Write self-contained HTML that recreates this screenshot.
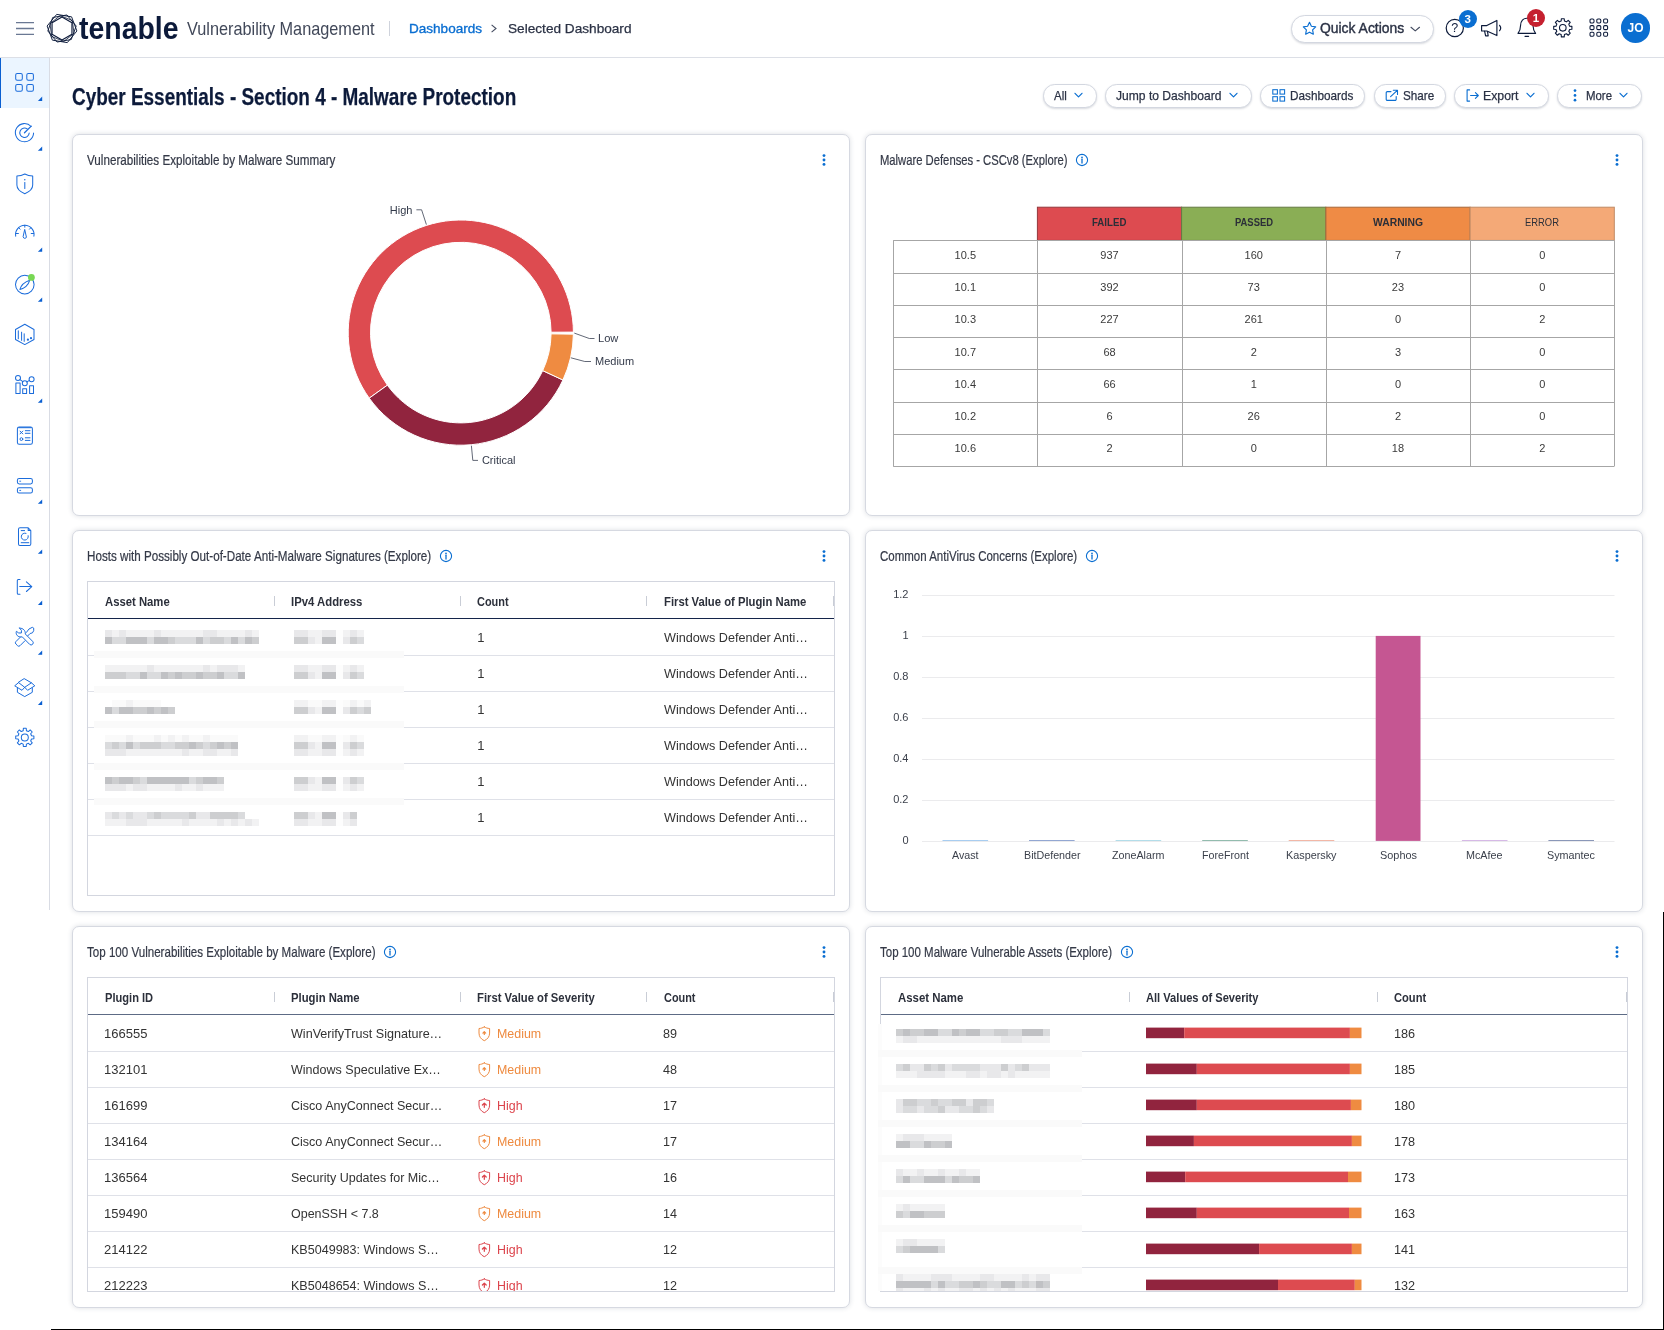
<!DOCTYPE html>
<html lang="en">
<head>
<meta charset="utf-8">
<title>Cyber Essentials - Section 4 - Malware Protection</title>
<style>
*{box-sizing:border-box;margin:0;padding:0}
html,body{width:1664px;height:1330px;overflow:hidden;background:#fff}
#app{position:absolute;left:0;top:0;width:1664px;height:1330px;overflow:hidden;will-change:transform}
body{position:relative;font-family:"Liberation Sans",sans-serif;color:#333}
.t{position:absolute;white-space:nowrap;line-height:1;transform-origin:0 0;font-family:"Liberation Sans",sans-serif}
.a{position:absolute}
svg{position:absolute;overflow:visible}
.panel{position:absolute;width:778px;height:382px;background:#fff;border:1px solid #d6d9e1;border-radius:7px;box-shadow:0 0 5px rgba(40,50,80,.16)}
.pill{position:absolute;height:24px;background:#fff;border:1px solid #d3d7e0;border-radius:12px;box-shadow:0 1px 2px rgba(40,50,80,.18)}
.tbl{position:absolute;border:1px solid #d6d9e1;background:#fff}
.hl{position:absolute;height:1px;background:#dfe2e8}
.vs{position:absolute;width:1px;height:10px;background:#c9cdd6}
.px{position:absolute}
i.m{display:inline-block;width:0;height:0}

</style>
</head>
<body>
<div id="app">
<div class="a" style="left:0;top:57px;width:1664px;height:1px;background:#dcdfe6"></div>
<svg style="left:15px;top:21px" width="20" height="16" viewBox="0 0 20 16"><path d="M1 1.7h18M1 7.5h18M1 13.3h18" stroke="#6a7893" stroke-width="1.3" fill="none"/></svg>
<svg style="left:44px;top:11px" width="36" height="36" viewBox="44 11 36 36"><g fill="none" stroke="#0c1a3a" stroke-width="0.95" stroke-linejoin="round"><path d="M76.89 30.99L67.29 42.64L52.40 40.15L47.11 26.01L56.71 14.36L71.60 16.85Z"/><path d="M76.18 26.00L71.26 39.53L57.07 42.03L47.82 31.00L52.74 17.47L66.93 14.97Z"/><path d="M74.05 33.37L63.81 41.37L51.76 36.50L49.95 23.63L60.19 15.63L72.24 20.50Z" stroke-width="0.8"/><path d="M71.96 34.25L62.00 40.00L52.04 34.25L52.04 22.75L62.00 17.00L71.96 22.75Z" stroke-width="1.15"/></g></svg>
<div class="a" style="left:389px;top:21px;width:1px;height:15px;background:#cfd3dc"></div>
<svg style="left:490px;top:23px" width="8" height="11" viewBox="0 0 8 11"><path d="M1.6 1.8l4.4 3.7-4.4 3.7" stroke="#444c60" stroke-width="1.1" fill="none"/></svg>
<div class="panel" style="left:72px;top:134px"></div>
<div class="panel" style="left:865px;top:134px"></div>
<div class="panel" style="left:72px;top:530px"></div>
<div class="panel" style="left:865px;top:530px"></div>
<div class="panel" style="left:72px;top:926px"></div>
<div class="panel" style="left:865px;top:926px"></div>
<div class="a" style="left:51px;top:1329px;width:1613px;height:1px;background:#000"></div>
<div class="a" style="left:1663px;top:912px;width:1px;height:418px;background:#000"></div>
<div class="a" style="left:49px;top:58px;width:1px;height:852px;background:#d9dce4"></div>
<svg style="left:821px;top:152.20000000000002px" width="6" height="16" viewBox="0 0 6 16"><circle cx="3" cy="3.6" r="1.45" fill="#0a6ed1"/><circle cx="3" cy="8" r="1.45" fill="#0a6ed1"/><circle cx="3" cy="12.4" r="1.45" fill="#0a6ed1"/></svg>
<svg style="left:1075px;top:153.4px" width="14" height="14" viewBox="0 0 14 14"><circle cx="7" cy="7" r="5.6" fill="none" stroke="#0a6ed1" stroke-width="1.1"/><circle cx="7" cy="4.4" r="0.85" fill="#0a6ed1"/><path d="M7 6.2v3.9" stroke="#0a6ed1" stroke-width="1.3" stroke-linecap="round"/></svg>
<svg style="left:1614px;top:152.20000000000002px" width="6" height="16" viewBox="0 0 6 16"><circle cx="3" cy="3.6" r="1.45" fill="#0a6ed1"/><circle cx="3" cy="8" r="1.45" fill="#0a6ed1"/><circle cx="3" cy="12.4" r="1.45" fill="#0a6ed1"/></svg>
<svg style="left:439px;top:549.4px" width="14" height="14" viewBox="0 0 14 14"><circle cx="7" cy="7" r="5.6" fill="none" stroke="#0a6ed1" stroke-width="1.1"/><circle cx="7" cy="4.4" r="0.85" fill="#0a6ed1"/><path d="M7 6.2v3.9" stroke="#0a6ed1" stroke-width="1.3" stroke-linecap="round"/></svg>
<svg style="left:821px;top:548.1999999999999px" width="6" height="16" viewBox="0 0 6 16"><circle cx="3" cy="3.6" r="1.45" fill="#0a6ed1"/><circle cx="3" cy="8" r="1.45" fill="#0a6ed1"/><circle cx="3" cy="12.4" r="1.45" fill="#0a6ed1"/></svg>
<svg style="left:1085.2px;top:549.4px" width="14" height="14" viewBox="0 0 14 14"><circle cx="7" cy="7" r="5.6" fill="none" stroke="#0a6ed1" stroke-width="1.1"/><circle cx="7" cy="4.4" r="0.85" fill="#0a6ed1"/><path d="M7 6.2v3.9" stroke="#0a6ed1" stroke-width="1.3" stroke-linecap="round"/></svg>
<svg style="left:1614px;top:548.1999999999999px" width="6" height="16" viewBox="0 0 6 16"><circle cx="3" cy="3.6" r="1.45" fill="#0a6ed1"/><circle cx="3" cy="8" r="1.45" fill="#0a6ed1"/><circle cx="3" cy="12.4" r="1.45" fill="#0a6ed1"/></svg>
<svg style="left:383.3px;top:945.4px" width="14" height="14" viewBox="0 0 14 14"><circle cx="7" cy="7" r="5.6" fill="none" stroke="#0a6ed1" stroke-width="1.1"/><circle cx="7" cy="4.4" r="0.85" fill="#0a6ed1"/><path d="M7 6.2v3.9" stroke="#0a6ed1" stroke-width="1.3" stroke-linecap="round"/></svg>
<svg style="left:821px;top:944.1999999999999px" width="6" height="16" viewBox="0 0 6 16"><circle cx="3" cy="3.6" r="1.45" fill="#0a6ed1"/><circle cx="3" cy="8" r="1.45" fill="#0a6ed1"/><circle cx="3" cy="12.4" r="1.45" fill="#0a6ed1"/></svg>
<svg style="left:1120.2px;top:945.4px" width="14" height="14" viewBox="0 0 14 14"><circle cx="7" cy="7" r="5.6" fill="none" stroke="#0a6ed1" stroke-width="1.1"/><circle cx="7" cy="4.4" r="0.85" fill="#0a6ed1"/><path d="M7 6.2v3.9" stroke="#0a6ed1" stroke-width="1.3" stroke-linecap="round"/></svg>
<svg style="left:1614px;top:944.1999999999999px" width="6" height="16" viewBox="0 0 6 16"><circle cx="3" cy="3.6" r="1.45" fill="#0a6ed1"/><circle cx="3" cy="8" r="1.45" fill="#0a6ed1"/><circle cx="3" cy="12.4" r="1.45" fill="#0a6ed1"/></svg>
<div class="pill" style="left:1042.5px;top:84px;width:54.0px;height:23.5px;border-radius:11.75px"></div>
<svg style="left:1074.0px;top:92.4px" width="9" height="7" viewBox="0 0 9 7"><path d="M1 1.3l3.5 3.6 3.5-3.6" stroke="#0a6ed1" stroke-width="1.2" fill="none" stroke-linecap="round" stroke-linejoin="round"/></svg>
<div class="pill" style="left:1104.5px;top:84px;width:147.0px;height:23.5px;border-radius:11.75px"></div>
<svg style="left:1228.8px;top:92.4px" width="9" height="7" viewBox="0 0 9 7"><path d="M1 1.3l3.5 3.6 3.5-3.6" stroke="#0a6ed1" stroke-width="1.2" fill="none" stroke-linecap="round" stroke-linejoin="round"/></svg>
<div class="pill" style="left:1259.5px;top:84px;width:105.0px;height:23.5px;border-radius:11.75px"></div>
<svg style="left:1271.5px;top:89px" width="14" height="13" viewBox="0 0 14 13"><g fill="none" stroke="#0a6ed1" stroke-width="1.05"><rect x="0.8" y="0.7" width="4.6" height="4.4"/><rect x="8" y="0.7" width="4.6" height="4.4"/><rect x="0.8" y="7.7" width="4.6" height="4.4"/><rect x="8" y="7.7" width="4.6" height="4.4"/></g></svg>
<div class="pill" style="left:1373.5px;top:84px;width:72.0px;height:23.5px;border-radius:11.75px"></div>
<svg style="left:1384.5px;top:88.5px" width="14" height="13" viewBox="0 0 14 13"><g fill="none" stroke="#0a6ed1" stroke-width="1.1" stroke-linecap="round" stroke-linejoin="round"><path d="M6 2.6H2.4a1.2 1.2 0 0 0-1.2 1.2v6.4a1.2 1.2 0 0 0 1.2 1.2h7.6a1.2 1.2 0 0 0 1.2-1.2V7.6"/><path d="M8.3 1.2h4.2v4.2M12.3 1.4L5.6 7.6"/></g></svg>
<div class="pill" style="left:1453.5px;top:84px;width:95.0px;height:23.5px;border-radius:11.75px"></div>
<svg style="left:1526.1px;top:92.4px" width="9" height="7" viewBox="0 0 9 7"><path d="M1 1.3l3.5 3.6 3.5-3.6" stroke="#0a6ed1" stroke-width="1.2" fill="none" stroke-linecap="round" stroke-linejoin="round"/></svg>
<svg style="left:1465.5px;top:89px" width="14" height="13" viewBox="0 0 14 13"><g fill="none" stroke="#0a6ed1" stroke-width="1.1" stroke-linecap="round" stroke-linejoin="round"><path d="M3.6 0.9H1.1v11.2h2.5"/><path d="M4.6 6.5h7.6M9.4 3.6l2.9 2.9-2.9 2.9"/></g></svg>
<div class="pill" style="left:1556.5px;top:84px;width:85.0px;height:23.5px;border-radius:11.75px"></div>
<svg style="left:1618.8px;top:92.4px" width="9" height="7" viewBox="0 0 9 7"><path d="M1 1.3l3.5 3.6 3.5-3.6" stroke="#0a6ed1" stroke-width="1.2" fill="none" stroke-linecap="round" stroke-linejoin="round"/></svg>
<svg style="left:1572px;top:88px" width="6" height="15" viewBox="0 0 6 15"><circle cx="3" cy="2.6" r="1.35" fill="#0a6ed1"/><circle cx="3" cy="7.4" r="1.35" fill="#0a6ed1"/><circle cx="3" cy="12.2" r="1.35" fill="#0a6ed1"/></svg>
<div class="pill" style="left:1291px;top:15px;width:142.5px;height:27.5px;border-radius:13.75px"></div>
<svg style="left:1302px;top:20.5px" width="15" height="15" viewBox="0 0 15 15"><path d="M7.5 1.3l1.9 3.95 4.3.6-3.1 3.05.75 4.3L7.5 11.15 3.65 13.2l.75-4.3L1.3 5.85l4.3-.6z" fill="none" stroke="#0a6ed1" stroke-width="1.15" stroke-linejoin="round"/></svg>
<svg style="left:1410.25px;top:26px" width="10.5" height="7" viewBox="0 0 10.5 7"><path d="M1 1.3l4.25 3.6 4.25-3.6" stroke="#444c60" stroke-width="1.15" fill="none" stroke-linecap="round" stroke-linejoin="round"/></svg>
<svg style="left:1444px;top:17px" width="22" height="22" viewBox="0 0 22 22"><circle cx="10.8" cy="11" r="8.6" fill="none" stroke="#0c1a3a" stroke-width="1.2"/></svg>
<div class="a" style="left:1458.5px;top:9.5px;width:18px;height:18px;border-radius:9px;background:#0a6ed1"></div>
<div class="a" style="left:1621px;top:13.2px;width:29.4px;height:29.4px;border-radius:15px;background:#0a6ed1"></div>
<svg style="left:1480px;top:19px" width="23" height="19" viewBox="0 0 23 19"><g fill="none" stroke="#0c1a3a" stroke-width="1.15" stroke-linejoin="round" stroke-linecap="round"><path d="M1.6 6.6h5.2L16.9 1.4v15.2L6.8 12H1.6z"/><path d="M4.6 12.2l1 4.6h2.6l-.7-4.3"/><path d="M19.6 6.3a4.2 4.2 0 0 1 0 5.4"/></g></svg>
<svg style="left:1516px;top:16px" width="22" height="23" viewBox="0 0 22 23"><g fill="none" stroke="#0c1a3a" stroke-width="1.15" stroke-linejoin="round" stroke-linecap="round"><path d="M2 17.4h17.6c-1.9-2.3-2.5-4.4-2.6-8.2C16.9 5.1 14.3 2.2 10.8 2.2S4.7 5.100 4.600 9.200C4.5 13 3.900 15.100 2 17.400z"/><path d="M9 20.300h3.600"/></g></svg>
<div class="a" style="left:1527.2px;top:9.1px;width:17.8px;height:17.8px;border-radius:9px;background:#c5202f"></div>
<svg style="left:1552px;top:17px" width="22" height="22" viewBox="0 0 22 22"><g fill="none" stroke="#0c1a3a" stroke-width="1.1" stroke-linejoin="round"><path d="M9.36 1.71 L12.24 1.71 L12.43 3.99 L14.46 4.83 L16.21 3.36 L18.24 5.39 L16.77 7.14 L17.61 9.17 L19.89 9.36 L19.89 12.24 L17.61 12.43 L16.77 14.46 L18.24 16.21 L16.21 18.24 L14.46 16.77 L12.43 17.61 L12.24 19.89 L9.36 19.89 L9.17 17.61 L7.14 16.77 L5.39 18.24 L3.36 16.21 L4.83 14.46 L3.99 12.43 L1.71 12.24 L1.71 9.36 L3.99 9.17 L4.83 7.14 L3.36 5.39 L5.39 3.36 L7.14 4.83 L9.17 3.99Z"/><circle cx="10.8" cy="10.8" r="3.3"/></g></svg>
<svg style="left:1588px;top:17.2px" width="22" height="22" viewBox="0 0 22 22"><g fill="none" stroke="#0c1a3a" stroke-width="1.05"><rect x="2.0" y="2.0" width="4" height="4" rx="1.2"/><rect x="2.0" y="8.6" width="4" height="4" rx="1.2"/><rect x="2.0" y="15.2" width="4" height="4" rx="1.2"/><rect x="8.8" y="2.0" width="4" height="4" rx="1.2"/><rect x="8.8" y="8.6" width="4" height="4" rx="1.2"/><rect x="8.8" y="15.2" width="4" height="4" rx="1.2"/><rect x="15.6" y="2.0" width="4" height="4" rx="1.2"/><rect x="15.6" y="8.6" width="4" height="4" rx="1.2"/><rect x="15.6" y="15.2" width="4" height="4" rx="1.2"/></g></svg>
<svg style="left:0;top:0" width="1664" height="520" viewBox="0 0 1664 520"><path d="M369.24 398.15A112.6 112.6 0 1 1 573.40 332.11L551.10 332.21A90.3 90.3 0 1 0 387.38 385.17Z" fill="#dd4b50" stroke="#fff" stroke-width="1" stroke-linejoin="round"/><path d="M562.93 380.01A112.6 112.6 0 0 1 369.24 398.15L387.38 385.17A90.3 90.3 0 0 0 542.71 370.62Z" fill="#91243e" stroke="#fff" stroke-width="1" stroke-linejoin="round"/><path d="M573.39 334.17A112.6 112.6 0 0 1 562.93 380.01L542.71 370.62A90.3 90.3 0 0 0 551.09 333.86Z" fill="#ef8b41" stroke="#fff" stroke-width="1" stroke-linejoin="round"/><g fill="none" stroke="#3b4254" stroke-width="0.8"><path d="M416.4 209.8H421.6L426.4 224.6"/><path d="M574.3 333.1L589.3 338.5H594.5"/><path d="M570.9 357.8L584.8 361.5H591"/><path d="M471.4 445.7L472.8 460.4H478"/></g></svg>
<svg style="left:0;top:0" width="1664" height="520" viewBox="0 0 1664 520" shape-rendering="auto"><rect x="1037.4" y="207.2" width="144.2" height="33.2" fill="#dd4b50" stroke="#94383c" stroke-width="1"/><rect x="1181.6" y="207.2" width="144.2" height="33.2" fill="#8aae55" stroke="#657a44" stroke-width="1"/><rect x="1325.9" y="207.2" width="144.2" height="33.2" fill="#ef8b45" stroke="#a8683a" stroke-width="1"/><rect x="1470.1" y="207.2" width="144.2" height="33.2" fill="#f4a977" stroke="#c08a64" stroke-width="1"/><path d="M893.2 240.5H1614.3" stroke="#a6a6a6" stroke-width="1"/><path d="M893.2 273.5H1614.3" stroke="#a6a6a6" stroke-width="1"/><path d="M893.2 305.5H1614.3" stroke="#a6a6a6" stroke-width="1"/><path d="M893.2 337.5H1614.3" stroke="#a6a6a6" stroke-width="1"/><path d="M893.2 369.5H1614.3" stroke="#a6a6a6" stroke-width="1"/><path d="M893.2 402.5H1614.3" stroke="#a6a6a6" stroke-width="1"/><path d="M893.2 434.5H1614.3" stroke="#a6a6a6" stroke-width="1"/><path d="M893.2 466.5H1614.3" stroke="#a6a6a6" stroke-width="1"/><path d="M893.5 240.4V466.3" stroke="#a6a6a6" stroke-width="1"/><path d="M1037.5 240.4V466.3" stroke="#a6a6a6" stroke-width="1"/><path d="M1182.5 240.4V466.3" stroke="#a6a6a6" stroke-width="1"/><path d="M1326.5 240.4V466.3" stroke="#a6a6a6" stroke-width="1"/><path d="M1470.5 240.4V466.3" stroke="#a6a6a6" stroke-width="1"/><path d="M1614.5 240.4V466.3" stroke="#a6a6a6" stroke-width="1"/></svg>
<div class="tbl" style="left:87px;top:581px;width:748px;height:315px;border-color:#d3d6df;border-top-width:1.5px"></div><div class="a" style="left:88px;top:617.5999999999999px;width:746px;height:1.5px;background:#14244a"></div><div class="hl" style="left:88px;top:655px;width:746px;background:#dfe1e8"></div><div class="hl" style="left:88px;top:691px;width:746px;background:#dfe1e8"></div><div class="hl" style="left:88px;top:727px;width:746px;background:#dfe1e8"></div><div class="hl" style="left:88px;top:763px;width:746px;background:#dfe1e8"></div><div class="hl" style="left:88px;top:799px;width:746px;background:#dfe1e8"></div><div class="hl" style="left:88px;top:835px;width:746px;background:#dfe1e8"></div><div class="vs" style="left:274px;top:596.3px"></div><div class="vs" style="left:460px;top:596.3px"></div><div class="vs" style="left:646px;top:596.3px"></div><div class="vs" style="left:833px;top:596.3px"></div>
<svg style="left:0;top:0" width="1664" height="1330" viewBox="0 0 1664 1330" shape-rendering="crispEdges"><rect x="94" y="651" width="310" height="7" fill="#fafafa"/><rect x="94" y="686" width="310" height="7" fill="#fafafa"/><rect x="94" y="721" width="310" height="7" fill="#fafafa"/><rect x="94" y="763" width="310" height="7" fill="#fafafa"/><rect x="94" y="798" width="310" height="7" fill="#fafafa"/><rect x="105" y="630" width="7" height="7" fill="#e8e8ea"/><rect x="112" y="630" width="7" height="7" fill="#f2f2f3"/><rect x="119" y="630" width="7" height="7" fill="#e8e8ea"/><rect x="126" y="630" width="7" height="7" fill="#f2f2f3"/><rect x="133" y="630" width="7" height="7" fill="#f2f2f3"/><rect x="140" y="630" width="7" height="7" fill="#f2f2f3"/><rect x="147" y="630" width="7" height="7" fill="#f2f2f3"/><rect x="154" y="630" width="7" height="7" fill="#e8e8ea"/><rect x="161" y="630" width="7" height="7" fill="#f2f2f3"/><rect x="168" y="630" width="7" height="7" fill="#f2f2f3"/><rect x="175" y="630" width="7" height="7" fill="#f2f2f3"/><rect x="182" y="630" width="7" height="7" fill="#f2f2f3"/><rect x="189" y="630" width="7" height="7" fill="#f2f2f3"/><rect x="196" y="630" width="7" height="7" fill="#f2f2f3"/><rect x="203" y="630" width="7" height="7" fill="#e8e8ea"/><rect x="210" y="630" width="7" height="7" fill="#e8e8ea"/><rect x="217" y="630" width="7" height="7" fill="#f2f2f3"/><rect x="224" y="630" width="7" height="7" fill="#f2f2f3"/><rect x="231" y="630" width="7" height="7" fill="#f2f2f3"/><rect x="238" y="630" width="7" height="7" fill="#f2f2f3"/><rect x="245" y="630" width="7" height="7" fill="#e8e8ea"/><rect x="252" y="630" width="7" height="7" fill="#f2f2f3"/><rect x="294" y="630" width="7" height="7" fill="#e8e8ea"/><rect x="301" y="630" width="7" height="7" fill="#e8e8ea"/><rect x="308" y="630" width="7" height="7" fill="#f2f2f3"/><rect x="315" y="630" width="7" height="7" fill="#f2f2f3"/><rect x="322" y="630" width="7" height="7" fill="#e8e8ea"/><rect x="329" y="630" width="7" height="7" fill="#e8e8ea"/><rect x="336" y="630" width="7" height="7" fill="#fdfdfd"/><rect x="343" y="630" width="7" height="7" fill="#f2f2f3"/><rect x="350" y="630" width="7" height="7" fill="#e8e8ea"/><rect x="357" y="630" width="7" height="7" fill="#f2f2f3"/><rect x="105" y="637" width="7" height="7" fill="#c0c1c4"/><rect x="112" y="637" width="7" height="7" fill="#dadbdd"/><rect x="119" y="637" width="7" height="7" fill="#dadbdd"/><rect x="126" y="637" width="7" height="7" fill="#c0c1c4"/><rect x="133" y="637" width="7" height="7" fill="#c0c1c4"/><rect x="140" y="637" width="7" height="7" fill="#c0c1c4"/><rect x="147" y="637" width="7" height="7" fill="#dadbdd"/><rect x="154" y="637" width="7" height="7" fill="#c0c1c4"/><rect x="161" y="637" width="7" height="7" fill="#c0c1c4"/><rect x="168" y="637" width="7" height="7" fill="#cdced0"/><rect x="175" y="637" width="7" height="7" fill="#dadbdd"/><rect x="182" y="637" width="7" height="7" fill="#dadbdd"/><rect x="189" y="637" width="7" height="7" fill="#dadbdd"/><rect x="196" y="637" width="7" height="7" fill="#c0c1c4"/><rect x="203" y="637" width="7" height="7" fill="#dadbdd"/><rect x="210" y="637" width="7" height="7" fill="#cdced0"/><rect x="217" y="637" width="7" height="7" fill="#cdced0"/><rect x="224" y="637" width="7" height="7" fill="#dadbdd"/><rect x="231" y="637" width="7" height="7" fill="#c0c1c4"/><rect x="238" y="637" width="7" height="7" fill="#dadbdd"/><rect x="245" y="637" width="7" height="7" fill="#c0c1c4"/><rect x="252" y="637" width="7" height="7" fill="#cdced0"/><rect x="294" y="637" width="7" height="7" fill="#cdced0"/><rect x="301" y="637" width="7" height="7" fill="#cdced0"/><rect x="308" y="637" width="7" height="7" fill="#e8e8ea"/><rect x="315" y="637" width="7" height="7" fill="#f2f2f3"/><rect x="322" y="637" width="7" height="7" fill="#c0c1c4"/><rect x="329" y="637" width="7" height="7" fill="#c0c1c4"/><rect x="336" y="637" width="7" height="7" fill="#fdfdfd"/><rect x="343" y="637" width="7" height="7" fill="#e8e8ea"/><rect x="350" y="637" width="7" height="7" fill="#cdced0"/><rect x="357" y="637" width="7" height="7" fill="#dadbdd"/><rect x="105" y="665" width="7" height="7" fill="#f2f2f3"/><rect x="112" y="665" width="7" height="7" fill="#f2f2f3"/><rect x="119" y="665" width="7" height="7" fill="#f2f2f3"/><rect x="126" y="665" width="7" height="7" fill="#f2f2f3"/><rect x="133" y="665" width="7" height="7" fill="#f2f2f3"/><rect x="140" y="665" width="7" height="7" fill="#f2f2f3"/><rect x="147" y="665" width="7" height="7" fill="#e8e8ea"/><rect x="154" y="665" width="7" height="7" fill="#f2f2f3"/><rect x="161" y="665" width="7" height="7" fill="#f2f2f3"/><rect x="168" y="665" width="7" height="7" fill="#f2f2f3"/><rect x="175" y="665" width="7" height="7" fill="#f2f2f3"/><rect x="182" y="665" width="7" height="7" fill="#f2f2f3"/><rect x="189" y="665" width="7" height="7" fill="#f2f2f3"/><rect x="196" y="665" width="7" height="7" fill="#f2f2f3"/><rect x="203" y="665" width="7" height="7" fill="#e8e8ea"/><rect x="210" y="665" width="7" height="7" fill="#f2f2f3"/><rect x="217" y="665" width="7" height="7" fill="#e8e8ea"/><rect x="224" y="665" width="7" height="7" fill="#e8e8ea"/><rect x="231" y="665" width="7" height="7" fill="#e8e8ea"/><rect x="238" y="665" width="7" height="7" fill="#f2f2f3"/><rect x="294" y="665" width="7" height="7" fill="#e8e8ea"/><rect x="301" y="665" width="7" height="7" fill="#e8e8ea"/><rect x="308" y="665" width="7" height="7" fill="#f2f2f3"/><rect x="315" y="665" width="7" height="7" fill="#f2f2f3"/><rect x="322" y="665" width="7" height="7" fill="#e8e8ea"/><rect x="329" y="665" width="7" height="7" fill="#e8e8ea"/><rect x="336" y="665" width="7" height="7" fill="#fdfdfd"/><rect x="343" y="665" width="7" height="7" fill="#f2f2f3"/><rect x="350" y="665" width="7" height="7" fill="#e8e8ea"/><rect x="357" y="665" width="7" height="7" fill="#f2f2f3"/><rect x="105" y="672" width="7" height="7" fill="#cdced0"/><rect x="112" y="672" width="7" height="7" fill="#cdced0"/><rect x="119" y="672" width="7" height="7" fill="#cdced0"/><rect x="126" y="672" width="7" height="7" fill="#dadbdd"/><rect x="133" y="672" width="7" height="7" fill="#dadbdd"/><rect x="140" y="672" width="7" height="7" fill="#c0c1c4"/><rect x="147" y="672" width="7" height="7" fill="#dadbdd"/><rect x="154" y="672" width="7" height="7" fill="#dadbdd"/><rect x="161" y="672" width="7" height="7" fill="#c0c1c4"/><rect x="168" y="672" width="7" height="7" fill="#cdced0"/><rect x="175" y="672" width="7" height="7" fill="#c0c1c4"/><rect x="182" y="672" width="7" height="7" fill="#cdced0"/><rect x="189" y="672" width="7" height="7" fill="#cdced0"/><rect x="196" y="672" width="7" height="7" fill="#c0c1c4"/><rect x="203" y="672" width="7" height="7" fill="#cdced0"/><rect x="210" y="672" width="7" height="7" fill="#cdced0"/><rect x="217" y="672" width="7" height="7" fill="#c0c1c4"/><rect x="224" y="672" width="7" height="7" fill="#dadbdd"/><rect x="231" y="672" width="7" height="7" fill="#dadbdd"/><rect x="238" y="672" width="7" height="7" fill="#c0c1c4"/><rect x="294" y="672" width="7" height="7" fill="#cdced0"/><rect x="301" y="672" width="7" height="7" fill="#cdced0"/><rect x="308" y="672" width="7" height="7" fill="#e8e8ea"/><rect x="315" y="672" width="7" height="7" fill="#f2f2f3"/><rect x="322" y="672" width="7" height="7" fill="#c0c1c4"/><rect x="329" y="672" width="7" height="7" fill="#c0c1c4"/><rect x="336" y="672" width="7" height="7" fill="#fdfdfd"/><rect x="343" y="672" width="7" height="7" fill="#e8e8ea"/><rect x="350" y="672" width="7" height="7" fill="#cdced0"/><rect x="357" y="672" width="7" height="7" fill="#dadbdd"/><rect x="112" y="700" width="7" height="7" fill="#fafafa"/><rect x="119" y="700" width="7" height="7" fill="#fafafa"/><rect x="126" y="700" width="7" height="7" fill="#f2f2f3"/><rect x="133" y="700" width="7" height="7" fill="#fafafa"/><rect x="140" y="700" width="7" height="7" fill="#fafafa"/><rect x="147" y="700" width="7" height="7" fill="#fafafa"/><rect x="154" y="700" width="7" height="7" fill="#fafafa"/><rect x="294" y="700" width="7" height="7" fill="#f2f2f3"/><rect x="301" y="700" width="7" height="7" fill="#f2f2f3"/><rect x="308" y="700" width="7" height="7" fill="#fafafa"/><rect x="315" y="700" width="7" height="7" fill="#fafafa"/><rect x="322" y="700" width="7" height="7" fill="#f2f2f3"/><rect x="329" y="700" width="7" height="7" fill="#f2f2f3"/><rect x="336" y="700" width="7" height="7" fill="#fdfdfd"/><rect x="343" y="700" width="7" height="7" fill="#fafafa"/><rect x="350" y="700" width="7" height="7" fill="#f2f2f3"/><rect x="357" y="700" width="7" height="7" fill="#fafafa"/><rect x="364" y="700" width="7" height="7" fill="#f2f2f3"/><rect x="105" y="707" width="7" height="7" fill="#c0c1c4"/><rect x="112" y="707" width="7" height="7" fill="#dadbdd"/><rect x="119" y="707" width="7" height="7" fill="#c0c1c4"/><rect x="126" y="707" width="7" height="7" fill="#c0c1c4"/><rect x="133" y="707" width="7" height="7" fill="#cdced0"/><rect x="140" y="707" width="7" height="7" fill="#cdced0"/><rect x="147" y="707" width="7" height="7" fill="#c0c1c4"/><rect x="154" y="707" width="7" height="7" fill="#cdced0"/><rect x="161" y="707" width="7" height="7" fill="#c0c1c4"/><rect x="168" y="707" width="7" height="7" fill="#cdced0"/><rect x="294" y="707" width="7" height="7" fill="#cdced0"/><rect x="301" y="707" width="7" height="7" fill="#cdced0"/><rect x="308" y="707" width="7" height="7" fill="#e8e8ea"/><rect x="315" y="707" width="7" height="7" fill="#f2f2f3"/><rect x="322" y="707" width="7" height="7" fill="#c0c1c4"/><rect x="329" y="707" width="7" height="7" fill="#c0c1c4"/><rect x="336" y="707" width="7" height="7" fill="#fdfdfd"/><rect x="343" y="707" width="7" height="7" fill="#e8e8ea"/><rect x="350" y="707" width="7" height="7" fill="#cdced0"/><rect x="357" y="707" width="7" height="7" fill="#dadbdd"/><rect x="364" y="707" width="7" height="7" fill="#cdced0"/><rect x="105" y="735" width="7" height="7" fill="#fafafa"/><rect x="112" y="735" width="7" height="7" fill="#fafafa"/><rect x="119" y="735" width="7" height="7" fill="#fafafa"/><rect x="126" y="735" width="7" height="7" fill="#f2f2f3"/><rect x="133" y="735" width="7" height="7" fill="#fafafa"/><rect x="140" y="735" width="7" height="7" fill="#fafafa"/><rect x="147" y="735" width="7" height="7" fill="#fafafa"/><rect x="154" y="735" width="7" height="7" fill="#f2f2f3"/><rect x="161" y="735" width="7" height="7" fill="#fafafa"/><rect x="168" y="735" width="7" height="7" fill="#f2f2f3"/><rect x="175" y="735" width="7" height="7" fill="#fafafa"/><rect x="182" y="735" width="7" height="7" fill="#f2f2f3"/><rect x="189" y="735" width="7" height="7" fill="#fafafa"/><rect x="196" y="735" width="7" height="7" fill="#fafafa"/><rect x="203" y="735" width="7" height="7" fill="#f2f2f3"/><rect x="210" y="735" width="7" height="7" fill="#fafafa"/><rect x="217" y="735" width="7" height="7" fill="#fafafa"/><rect x="224" y="735" width="7" height="7" fill="#fafafa"/><rect x="231" y="735" width="7" height="7" fill="#fafafa"/><rect x="294" y="735" width="7" height="7" fill="#f2f2f3"/><rect x="301" y="735" width="7" height="7" fill="#f2f2f3"/><rect x="308" y="735" width="7" height="7" fill="#fafafa"/><rect x="315" y="735" width="7" height="7" fill="#fafafa"/><rect x="322" y="735" width="7" height="7" fill="#f2f2f3"/><rect x="329" y="735" width="7" height="7" fill="#f2f2f3"/><rect x="336" y="735" width="7" height="7" fill="#fdfdfd"/><rect x="343" y="735" width="7" height="7" fill="#fafafa"/><rect x="350" y="735" width="7" height="7" fill="#f2f2f3"/><rect x="357" y="735" width="7" height="7" fill="#fafafa"/><rect x="105" y="742" width="7" height="7" fill="#dadbdd"/><rect x="112" y="742" width="7" height="7" fill="#cdced0"/><rect x="119" y="742" width="7" height="7" fill="#dadbdd"/><rect x="126" y="742" width="7" height="7" fill="#c0c1c4"/><rect x="133" y="742" width="7" height="7" fill="#dadbdd"/><rect x="140" y="742" width="7" height="7" fill="#cdced0"/><rect x="147" y="742" width="7" height="7" fill="#cdced0"/><rect x="154" y="742" width="7" height="7" fill="#cdced0"/><rect x="161" y="742" width="7" height="7" fill="#dadbdd"/><rect x="168" y="742" width="7" height="7" fill="#dadbdd"/><rect x="175" y="742" width="7" height="7" fill="#cdced0"/><rect x="182" y="742" width="7" height="7" fill="#cdced0"/><rect x="189" y="742" width="7" height="7" fill="#c0c1c4"/><rect x="196" y="742" width="7" height="7" fill="#cdced0"/><rect x="203" y="742" width="7" height="7" fill="#dadbdd"/><rect x="210" y="742" width="7" height="7" fill="#cdced0"/><rect x="217" y="742" width="7" height="7" fill="#c0c1c4"/><rect x="224" y="742" width="7" height="7" fill="#cdced0"/><rect x="231" y="742" width="7" height="7" fill="#c0c1c4"/><rect x="294" y="742" width="7" height="7" fill="#cdced0"/><rect x="301" y="742" width="7" height="7" fill="#cdced0"/><rect x="308" y="742" width="7" height="7" fill="#e8e8ea"/><rect x="315" y="742" width="7" height="7" fill="#f2f2f3"/><rect x="322" y="742" width="7" height="7" fill="#c0c1c4"/><rect x="329" y="742" width="7" height="7" fill="#c0c1c4"/><rect x="336" y="742" width="7" height="7" fill="#fdfdfd"/><rect x="343" y="742" width="7" height="7" fill="#e8e8ea"/><rect x="350" y="742" width="7" height="7" fill="#cdced0"/><rect x="357" y="742" width="7" height="7" fill="#dadbdd"/><rect x="105" y="749" width="7" height="7" fill="#e8e8ea"/><rect x="112" y="749" width="7" height="7" fill="#e8e8ea"/><rect x="119" y="749" width="7" height="7" fill="#e8e8ea"/><rect x="126" y="749" width="7" height="7" fill="#f2f2f3"/><rect x="133" y="749" width="7" height="7" fill="#f2f2f3"/><rect x="140" y="749" width="7" height="7" fill="#f2f2f3"/><rect x="147" y="749" width="7" height="7" fill="#f2f2f3"/><rect x="154" y="749" width="7" height="7" fill="#f2f2f3"/><rect x="161" y="749" width="7" height="7" fill="#f2f2f3"/><rect x="168" y="749" width="7" height="7" fill="#f2f2f3"/><rect x="175" y="749" width="7" height="7" fill="#f2f2f3"/><rect x="182" y="749" width="7" height="7" fill="#e8e8ea"/><rect x="189" y="749" width="7" height="7" fill="#f2f2f3"/><rect x="196" y="749" width="7" height="7" fill="#f2f2f3"/><rect x="203" y="749" width="7" height="7" fill="#e8e8ea"/><rect x="210" y="749" width="7" height="7" fill="#e8e8ea"/><rect x="217" y="749" width="7" height="7" fill="#f2f2f3"/><rect x="224" y="749" width="7" height="7" fill="#f2f2f3"/><rect x="231" y="749" width="7" height="7" fill="#e8e8ea"/><rect x="294" y="749" width="7" height="7" fill="#e8e8ea"/><rect x="301" y="749" width="7" height="7" fill="#e8e8ea"/><rect x="308" y="749" width="7" height="7" fill="#f2f2f3"/><rect x="315" y="749" width="7" height="7" fill="#f2f2f3"/><rect x="322" y="749" width="7" height="7" fill="#e8e8ea"/><rect x="329" y="749" width="7" height="7" fill="#e8e8ea"/><rect x="336" y="749" width="7" height="7" fill="#fdfdfd"/><rect x="343" y="749" width="7" height="7" fill="#f2f2f3"/><rect x="350" y="749" width="7" height="7" fill="#e8e8ea"/><rect x="357" y="749" width="7" height="7" fill="#f2f2f3"/><rect x="105" y="777" width="7" height="7" fill="#c0c1c4"/><rect x="112" y="777" width="7" height="7" fill="#cdced0"/><rect x="119" y="777" width="7" height="7" fill="#c0c1c4"/><rect x="126" y="777" width="7" height="7" fill="#c0c1c4"/><rect x="133" y="777" width="7" height="7" fill="#cdced0"/><rect x="140" y="777" width="7" height="7" fill="#dadbdd"/><rect x="147" y="777" width="7" height="7" fill="#c0c1c4"/><rect x="154" y="777" width="7" height="7" fill="#c0c1c4"/><rect x="161" y="777" width="7" height="7" fill="#c0c1c4"/><rect x="168" y="777" width="7" height="7" fill="#c0c1c4"/><rect x="175" y="777" width="7" height="7" fill="#c0c1c4"/><rect x="182" y="777" width="7" height="7" fill="#c0c1c4"/><rect x="189" y="777" width="7" height="7" fill="#dadbdd"/><rect x="196" y="777" width="7" height="7" fill="#cdced0"/><rect x="203" y="777" width="7" height="7" fill="#c0c1c4"/><rect x="210" y="777" width="7" height="7" fill="#c0c1c4"/><rect x="217" y="777" width="7" height="7" fill="#cdced0"/><rect x="294" y="777" width="7" height="7" fill="#cdced0"/><rect x="301" y="777" width="7" height="7" fill="#cdced0"/><rect x="308" y="777" width="7" height="7" fill="#e8e8ea"/><rect x="315" y="777" width="7" height="7" fill="#f2f2f3"/><rect x="322" y="777" width="7" height="7" fill="#c0c1c4"/><rect x="329" y="777" width="7" height="7" fill="#c0c1c4"/><rect x="336" y="777" width="7" height="7" fill="#fdfdfd"/><rect x="343" y="777" width="7" height="7" fill="#e8e8ea"/><rect x="350" y="777" width="7" height="7" fill="#cdced0"/><rect x="357" y="777" width="7" height="7" fill="#dadbdd"/><rect x="105" y="784" width="7" height="7" fill="#e8e8ea"/><rect x="112" y="784" width="7" height="7" fill="#e8e8ea"/><rect x="119" y="784" width="7" height="7" fill="#e8e8ea"/><rect x="126" y="784" width="7" height="7" fill="#f2f2f3"/><rect x="133" y="784" width="7" height="7" fill="#e8e8ea"/><rect x="140" y="784" width="7" height="7" fill="#e8e8ea"/><rect x="147" y="784" width="7" height="7" fill="#f2f2f3"/><rect x="154" y="784" width="7" height="7" fill="#f2f2f3"/><rect x="161" y="784" width="7" height="7" fill="#f2f2f3"/><rect x="168" y="784" width="7" height="7" fill="#f2f2f3"/><rect x="175" y="784" width="7" height="7" fill="#e8e8ea"/><rect x="182" y="784" width="7" height="7" fill="#f2f2f3"/><rect x="189" y="784" width="7" height="7" fill="#f2f2f3"/><rect x="196" y="784" width="7" height="7" fill="#e8e8ea"/><rect x="203" y="784" width="7" height="7" fill="#f2f2f3"/><rect x="210" y="784" width="7" height="7" fill="#f2f2f3"/><rect x="217" y="784" width="7" height="7" fill="#f2f2f3"/><rect x="294" y="784" width="7" height="7" fill="#e8e8ea"/><rect x="301" y="784" width="7" height="7" fill="#e8e8ea"/><rect x="308" y="784" width="7" height="7" fill="#f2f2f3"/><rect x="315" y="784" width="7" height="7" fill="#f2f2f3"/><rect x="322" y="784" width="7" height="7" fill="#e8e8ea"/><rect x="329" y="784" width="7" height="7" fill="#e8e8ea"/><rect x="336" y="784" width="7" height="7" fill="#fdfdfd"/><rect x="343" y="784" width="7" height="7" fill="#f2f2f3"/><rect x="350" y="784" width="7" height="7" fill="#e8e8ea"/><rect x="357" y="784" width="7" height="7" fill="#f2f2f3"/><rect x="105" y="812" width="7" height="7" fill="#e8e8ea"/><rect x="112" y="812" width="7" height="7" fill="#dadbdd"/><rect x="119" y="812" width="7" height="7" fill="#e8e8ea"/><rect x="126" y="812" width="7" height="7" fill="#dadbdd"/><rect x="133" y="812" width="7" height="7" fill="#e8e8ea"/><rect x="140" y="812" width="7" height="7" fill="#e8e8ea"/><rect x="147" y="812" width="7" height="7" fill="#dadbdd"/><rect x="154" y="812" width="7" height="7" fill="#cdced0"/><rect x="161" y="812" width="7" height="7" fill="#dadbdd"/><rect x="168" y="812" width="7" height="7" fill="#dadbdd"/><rect x="175" y="812" width="7" height="7" fill="#dadbdd"/><rect x="182" y="812" width="7" height="7" fill="#dadbdd"/><rect x="189" y="812" width="7" height="7" fill="#cdced0"/><rect x="196" y="812" width="7" height="7" fill="#e8e8ea"/><rect x="203" y="812" width="7" height="7" fill="#e8e8ea"/><rect x="210" y="812" width="7" height="7" fill="#cdced0"/><rect x="217" y="812" width="7" height="7" fill="#cdced0"/><rect x="224" y="812" width="7" height="7" fill="#cdced0"/><rect x="231" y="812" width="7" height="7" fill="#cdced0"/><rect x="238" y="812" width="7" height="7" fill="#dadbdd"/><rect x="294" y="812" width="7" height="7" fill="#cdced0"/><rect x="301" y="812" width="7" height="7" fill="#cdced0"/><rect x="308" y="812" width="7" height="7" fill="#e8e8ea"/><rect x="315" y="812" width="7" height="7" fill="#f2f2f3"/><rect x="322" y="812" width="7" height="7" fill="#c0c1c4"/><rect x="329" y="812" width="7" height="7" fill="#c0c1c4"/><rect x="336" y="812" width="7" height="7" fill="#fdfdfd"/><rect x="343" y="812" width="7" height="7" fill="#e8e8ea"/><rect x="350" y="812" width="7" height="7" fill="#cdced0"/><rect x="105" y="819" width="7" height="7" fill="#f2f2f3"/><rect x="112" y="819" width="7" height="7" fill="#f2f2f3"/><rect x="119" y="819" width="7" height="7" fill="#f2f2f3"/><rect x="126" y="819" width="7" height="7" fill="#e8e8ea"/><rect x="133" y="819" width="7" height="7" fill="#e8e8ea"/><rect x="140" y="819" width="7" height="7" fill="#e8e8ea"/><rect x="147" y="819" width="7" height="7" fill="#f2f2f3"/><rect x="154" y="819" width="7" height="7" fill="#f2f2f3"/><rect x="161" y="819" width="7" height="7" fill="#f2f2f3"/><rect x="168" y="819" width="7" height="7" fill="#f2f2f3"/><rect x="175" y="819" width="7" height="7" fill="#f2f2f3"/><rect x="182" y="819" width="7" height="7" fill="#e8e8ea"/><rect x="189" y="819" width="7" height="7" fill="#f2f2f3"/><rect x="196" y="819" width="7" height="7" fill="#f2f2f3"/><rect x="203" y="819" width="7" height="7" fill="#f2f2f3"/><rect x="210" y="819" width="7" height="7" fill="#f2f2f3"/><rect x="217" y="819" width="7" height="7" fill="#e8e8ea"/><rect x="224" y="819" width="7" height="7" fill="#f2f2f3"/><rect x="231" y="819" width="7" height="7" fill="#e8e8ea"/><rect x="238" y="819" width="7" height="7" fill="#f2f2f3"/><rect x="245" y="819" width="7" height="7" fill="#e8e8ea"/><rect x="252" y="819" width="7" height="7" fill="#f2f2f3"/><rect x="294" y="819" width="7" height="7" fill="#e8e8ea"/><rect x="301" y="819" width="7" height="7" fill="#e8e8ea"/><rect x="308" y="819" width="7" height="7" fill="#f2f2f3"/><rect x="315" y="819" width="7" height="7" fill="#f2f2f3"/><rect x="322" y="819" width="7" height="7" fill="#e8e8ea"/><rect x="329" y="819" width="7" height="7" fill="#e8e8ea"/><rect x="336" y="819" width="7" height="7" fill="#fdfdfd"/><rect x="343" y="819" width="7" height="7" fill="#f2f2f3"/><rect x="350" y="819" width="7" height="7" fill="#e8e8ea"/></svg>
<div class="tbl" style="left:87px;top:977px;width:748px;height:315px;border-color:#d3d6df;border-top-width:1.5px"></div><div class="a" style="left:88px;top:1013.5999999999999px;width:746px;height:1.5px;background:#5d6b85"></div><div class="hl" style="left:88px;top:1051px;width:746px;background:#dfe1e8"></div><div class="hl" style="left:88px;top:1087px;width:746px;background:#dfe1e8"></div><div class="hl" style="left:88px;top:1123px;width:746px;background:#dfe1e8"></div><div class="hl" style="left:88px;top:1159px;width:746px;background:#dfe1e8"></div><div class="hl" style="left:88px;top:1195px;width:746px;background:#dfe1e8"></div><div class="hl" style="left:88px;top:1231px;width:746px;background:#dfe1e8"></div><div class="hl" style="left:88px;top:1267px;width:746px;background:#dfe1e8"></div><div class="vs" style="left:274px;top:992.3px"></div><div class="vs" style="left:460px;top:992.3px"></div><div class="vs" style="left:646px;top:992.3px"></div><div class="vs" style="left:833px;top:992.3px"></div>
<svg style="left:477.6px;top:1026.3px" width="13" height="16" viewBox="0 0 13 16"><g fill="none" stroke="#ee8a3f" stroke-linecap="round" stroke-linejoin="round"><path d="M6.3 0.9c1.6 1 3.300 1.5 5.300 1.600v4.600c0 3.500-2.100 6.200-5.300 7.600C3.100 13.300 1 10.600 1 7.100V2.500c2-.1 3.700-.6 5.300-1.600z" stroke-width="1"/><path d="M6.3 6v2.4M4.9 7.1l1.4-1.4 1.4 1.4" stroke-width="1.2"/></g></svg>
<svg style="left:477.6px;top:1062.3px" width="13" height="16" viewBox="0 0 13 16"><g fill="none" stroke="#ee8a3f" stroke-linecap="round" stroke-linejoin="round"><path d="M6.3 0.9c1.6 1 3.300 1.5 5.300 1.600v4.600c0 3.500-2.100 6.200-5.300 7.600C3.100 13.300 1 10.600 1 7.100V2.500c2-.1 3.700-.6 5.300-1.600z" stroke-width="1"/><path d="M6.3 6v2.4M4.9 7.1l1.4-1.4 1.4 1.4" stroke-width="1.2"/></g></svg>
<svg style="left:477.6px;top:1098.3px" width="13" height="16" viewBox="0 0 13 16"><g fill="none" stroke="#dc444c" stroke-linecap="round" stroke-linejoin="round"><path d="M6.3 0.9c1.6 1 3.300 1.5 5.300 1.600v4.600c0 3.500-2.100 6.200-5.300 7.600C3.100 13.300 1 10.600 1 7.100V2.500c2-.1 3.700-.6 5.300-1.600z" stroke-width="1"/><path d="M6.3 5.3v4M4.4 7l1.9-1.9L8.2 7" stroke-width="1.25"/></g></svg>
<svg style="left:477.6px;top:1134.3px" width="13" height="16" viewBox="0 0 13 16"><g fill="none" stroke="#ee8a3f" stroke-linecap="round" stroke-linejoin="round"><path d="M6.3 0.9c1.6 1 3.300 1.5 5.300 1.600v4.600c0 3.500-2.100 6.200-5.300 7.600C3.100 13.300 1 10.600 1 7.100V2.500c2-.1 3.700-.6 5.300-1.600z" stroke-width="1"/><path d="M6.3 6v2.4M4.9 7.1l1.4-1.4 1.4 1.4" stroke-width="1.2"/></g></svg>
<svg style="left:477.6px;top:1170.3px" width="13" height="16" viewBox="0 0 13 16"><g fill="none" stroke="#dc444c" stroke-linecap="round" stroke-linejoin="round"><path d="M6.3 0.9c1.6 1 3.300 1.5 5.300 1.600v4.600c0 3.500-2.100 6.200-5.300 7.600C3.100 13.300 1 10.600 1 7.100V2.500c2-.1 3.700-.6 5.300-1.600z" stroke-width="1"/><path d="M6.3 5.3v4M4.4 7l1.9-1.9L8.2 7" stroke-width="1.25"/></g></svg>
<svg style="left:477.6px;top:1206.3px" width="13" height="16" viewBox="0 0 13 16"><g fill="none" stroke="#ee8a3f" stroke-linecap="round" stroke-linejoin="round"><path d="M6.3 0.9c1.6 1 3.300 1.5 5.300 1.600v4.600c0 3.500-2.100 6.200-5.300 7.600C3.100 13.300 1 10.600 1 7.100V2.500c2-.1 3.700-.6 5.300-1.600z" stroke-width="1"/><path d="M6.3 6v2.4M4.9 7.1l1.4-1.4 1.4 1.4" stroke-width="1.2"/></g></svg>
<svg style="left:477.6px;top:1242.3px" width="13" height="16" viewBox="0 0 13 16"><g fill="none" stroke="#dc444c" stroke-linecap="round" stroke-linejoin="round"><path d="M6.3 0.9c1.6 1 3.300 1.5 5.300 1.600v4.600c0 3.500-2.100 6.200-5.300 7.600C3.100 13.300 1 10.600 1 7.100V2.500c2-.1 3.700-.6 5.300-1.600z" stroke-width="1"/><path d="M6.3 5.3v4M4.4 7l1.9-1.9L8.2 7" stroke-width="1.25"/></g></svg>
<svg style="left:477.6px;top:1278.3px" width="13" height="16" viewBox="0 0 13 16"><g fill="none" stroke="#dc444c" stroke-linecap="round" stroke-linejoin="round"><path d="M6.3 0.9c1.6 1 3.300 1.5 5.300 1.600v4.600c0 3.500-2.100 6.200-5.300 7.600C3.100 13.300 1 10.600 1 7.100V2.500c2-.1 3.700-.6 5.300-1.600z" stroke-width="1"/><path d="M6.3 5.3v4M4.4 7l1.9-1.9L8.2 7" stroke-width="1.25"/></g></svg>
<div class="tbl" style="left:880px;top:977px;width:748px;height:315px;border-color:#d3d6df;border-top-width:1.5px"></div><div class="a" style="left:881px;top:1013.5999999999999px;width:746px;height:1.5px;background:#5d6b85"></div><div class="hl" style="left:881px;top:1051px;width:746px;background:#dfe1e8"></div><div class="hl" style="left:881px;top:1087px;width:746px;background:#dfe1e8"></div><div class="hl" style="left:881px;top:1123px;width:746px;background:#dfe1e8"></div><div class="hl" style="left:881px;top:1159px;width:746px;background:#dfe1e8"></div><div class="hl" style="left:881px;top:1195px;width:746px;background:#dfe1e8"></div><div class="hl" style="left:881px;top:1231px;width:746px;background:#dfe1e8"></div><div class="hl" style="left:881px;top:1267px;width:746px;background:#dfe1e8"></div><div class="vs" style="left:1129px;top:992.3px"></div><div class="vs" style="left:1377px;top:992.3px"></div><div class="vs" style="left:1626px;top:992.3px"></div>
<svg style="left:0;top:0" width="1664" height="1330" viewBox="0 0 1664 1330"><rect x="1146" y="1027.6" width="38.2" height="10.6" fill="#91243e"/><rect x="1184.2" y="1027.6" width="165.7" height="10.6" fill="#dd4b50"/><rect x="1349.9" y="1027.6" width="11.6" height="10.6" fill="#ef8b41"/><rect x="1146" y="1063.6" width="50.8" height="10.6" fill="#91243e"/><rect x="1196.8" y="1063.6" width="153.1" height="10.6" fill="#dd4b50"/><rect x="1349.9" y="1063.6" width="11.6" height="10.6" fill="#ef8b41"/><rect x="1146" y="1099.6" width="50.8" height="10.6" fill="#91243e"/><rect x="1196.8" y="1099.6" width="154.1" height="10.6" fill="#dd4b50"/><rect x="1350.9" y="1099.6" width="10.6" height="10.6" fill="#ef8b41"/><rect x="1146" y="1135.6" width="47.9" height="10.6" fill="#91243e"/><rect x="1193.9" y="1135.6" width="158.0" height="10.6" fill="#dd4b50"/><rect x="1351.9" y="1135.6" width="9.6" height="10.6" fill="#ef8b41"/><rect x="1146" y="1171.6" width="39.2" height="10.6" fill="#91243e"/><rect x="1185.2" y="1171.6" width="162.8" height="10.6" fill="#dd4b50"/><rect x="1348.0" y="1171.6" width="13.5" height="10.6" fill="#ef8b41"/><rect x="1146" y="1207.6" width="50.8" height="10.6" fill="#91243e"/><rect x="1196.8" y="1207.6" width="152.2" height="10.6" fill="#dd4b50"/><rect x="1349.0" y="1207.6" width="12.5" height="10.6" fill="#ef8b41"/><rect x="1146" y="1243.6" width="113.1" height="10.6" fill="#91243e"/><rect x="1259.1" y="1243.6" width="92.8" height="10.6" fill="#dd4b50"/><rect x="1351.9" y="1243.6" width="9.6" height="10.6" fill="#ef8b41"/><rect x="1146" y="1279.6" width="132.0" height="10.6" fill="#91243e"/><rect x="1278.0" y="1279.6" width="76.8" height="10.6" fill="#dd4b50"/><rect x="1354.8" y="1279.6" width="6.7" height="10.6" fill="#ef8b41"/></svg>
<svg style="left:0;top:0" width="1664" height="1330" viewBox="0 0 1664 1330" shape-rendering="crispEdges"><rect x="878" y="1024" width="4" height="267" fill="#fcfcfc"/><rect x="878" y="1050" width="204" height="7" fill="#fafafa"/><rect x="878" y="1085" width="204" height="7" fill="#fafafa"/><rect x="878" y="1120" width="204" height="7" fill="#fafafa"/><rect x="878" y="1155" width="204" height="7" fill="#fafafa"/><rect x="878" y="1190" width="204" height="7" fill="#fafafa"/><rect x="878" y="1225" width="204" height="7" fill="#fafafa"/><rect x="878" y="1267" width="204" height="7" fill="#fafafa"/><rect x="896" y="1029" width="7" height="7" fill="#cdced0"/><rect x="903" y="1029" width="7" height="7" fill="#c0c1c4"/><rect x="910" y="1029" width="7" height="7" fill="#cdced0"/><rect x="917" y="1029" width="7" height="7" fill="#cdced0"/><rect x="924" y="1029" width="7" height="7" fill="#c0c1c4"/><rect x="931" y="1029" width="7" height="7" fill="#c0c1c4"/><rect x="938" y="1029" width="7" height="7" fill="#dadbdd"/><rect x="945" y="1029" width="7" height="7" fill="#dadbdd"/><rect x="952" y="1029" width="7" height="7" fill="#c0c1c4"/><rect x="959" y="1029" width="7" height="7" fill="#cdced0"/><rect x="966" y="1029" width="7" height="7" fill="#c0c1c4"/><rect x="973" y="1029" width="7" height="7" fill="#c0c1c4"/><rect x="980" y="1029" width="7" height="7" fill="#dadbdd"/><rect x="987" y="1029" width="7" height="7" fill="#dadbdd"/><rect x="994" y="1029" width="7" height="7" fill="#cdced0"/><rect x="1001" y="1029" width="7" height="7" fill="#cdced0"/><rect x="1008" y="1029" width="7" height="7" fill="#dadbdd"/><rect x="1015" y="1029" width="7" height="7" fill="#dadbdd"/><rect x="1022" y="1029" width="7" height="7" fill="#c0c1c4"/><rect x="1029" y="1029" width="7" height="7" fill="#c0c1c4"/><rect x="1036" y="1029" width="7" height="7" fill="#c0c1c4"/><rect x="1043" y="1029" width="7" height="7" fill="#dadbdd"/><rect x="896" y="1036" width="7" height="7" fill="#f2f2f3"/><rect x="903" y="1036" width="7" height="7" fill="#e8e8ea"/><rect x="910" y="1036" width="7" height="7" fill="#e8e8ea"/><rect x="917" y="1036" width="7" height="7" fill="#f2f2f3"/><rect x="924" y="1036" width="7" height="7" fill="#f2f2f3"/><rect x="931" y="1036" width="7" height="7" fill="#f2f2f3"/><rect x="938" y="1036" width="7" height="7" fill="#f2f2f3"/><rect x="945" y="1036" width="7" height="7" fill="#f2f2f3"/><rect x="952" y="1036" width="7" height="7" fill="#f2f2f3"/><rect x="959" y="1036" width="7" height="7" fill="#f2f2f3"/><rect x="966" y="1036" width="7" height="7" fill="#f2f2f3"/><rect x="973" y="1036" width="7" height="7" fill="#f2f2f3"/><rect x="980" y="1036" width="7" height="7" fill="#f2f2f3"/><rect x="987" y="1036" width="7" height="7" fill="#f2f2f3"/><rect x="994" y="1036" width="7" height="7" fill="#f2f2f3"/><rect x="1001" y="1036" width="7" height="7" fill="#e8e8ea"/><rect x="1008" y="1036" width="7" height="7" fill="#e8e8ea"/><rect x="1015" y="1036" width="7" height="7" fill="#e8e8ea"/><rect x="1022" y="1036" width="7" height="7" fill="#f2f2f3"/><rect x="1029" y="1036" width="7" height="7" fill="#f2f2f3"/><rect x="1036" y="1036" width="7" height="7" fill="#f2f2f3"/><rect x="1043" y="1036" width="7" height="7" fill="#f2f2f3"/><rect x="896" y="1064" width="7" height="7" fill="#dadbdd"/><rect x="903" y="1064" width="7" height="7" fill="#cdced0"/><rect x="910" y="1064" width="7" height="7" fill="#e8e8ea"/><rect x="917" y="1064" width="7" height="7" fill="#e8e8ea"/><rect x="924" y="1064" width="7" height="7" fill="#cdced0"/><rect x="931" y="1064" width="7" height="7" fill="#dadbdd"/><rect x="938" y="1064" width="7" height="7" fill="#cdced0"/><rect x="945" y="1064" width="7" height="7" fill="#e8e8ea"/><rect x="952" y="1064" width="7" height="7" fill="#dadbdd"/><rect x="959" y="1064" width="7" height="7" fill="#dadbdd"/><rect x="966" y="1064" width="7" height="7" fill="#dadbdd"/><rect x="973" y="1064" width="7" height="7" fill="#dadbdd"/><rect x="980" y="1064" width="7" height="7" fill="#e8e8ea"/><rect x="987" y="1064" width="7" height="7" fill="#e8e8ea"/><rect x="994" y="1064" width="7" height="7" fill="#e8e8ea"/><rect x="1001" y="1064" width="7" height="7" fill="#cdced0"/><rect x="1008" y="1064" width="7" height="7" fill="#e8e8ea"/><rect x="1015" y="1064" width="7" height="7" fill="#dadbdd"/><rect x="1022" y="1064" width="7" height="7" fill="#cdced0"/><rect x="1029" y="1064" width="7" height="7" fill="#e8e8ea"/><rect x="1036" y="1064" width="7" height="7" fill="#e8e8ea"/><rect x="1043" y="1064" width="7" height="7" fill="#e8e8ea"/><rect x="896" y="1071" width="7" height="7" fill="#f2f2f3"/><rect x="903" y="1071" width="7" height="7" fill="#f2f2f3"/><rect x="910" y="1071" width="7" height="7" fill="#f2f2f3"/><rect x="917" y="1071" width="7" height="7" fill="#e8e8ea"/><rect x="924" y="1071" width="7" height="7" fill="#e8e8ea"/><rect x="931" y="1071" width="7" height="7" fill="#e8e8ea"/><rect x="938" y="1071" width="7" height="7" fill="#e8e8ea"/><rect x="945" y="1071" width="7" height="7" fill="#f2f2f3"/><rect x="952" y="1071" width="7" height="7" fill="#f2f2f3"/><rect x="959" y="1071" width="7" height="7" fill="#f2f2f3"/><rect x="966" y="1071" width="7" height="7" fill="#e8e8ea"/><rect x="973" y="1071" width="7" height="7" fill="#e8e8ea"/><rect x="980" y="1071" width="7" height="7" fill="#f2f2f3"/><rect x="987" y="1071" width="7" height="7" fill="#e8e8ea"/><rect x="994" y="1071" width="7" height="7" fill="#e8e8ea"/><rect x="1001" y="1071" width="7" height="7" fill="#f2f2f3"/><rect x="1008" y="1071" width="7" height="7" fill="#e8e8ea"/><rect x="1015" y="1071" width="7" height="7" fill="#f2f2f3"/><rect x="1022" y="1071" width="7" height="7" fill="#f2f2f3"/><rect x="1029" y="1071" width="7" height="7" fill="#f2f2f3"/><rect x="1036" y="1071" width="7" height="7" fill="#f2f2f3"/><rect x="1043" y="1071" width="7" height="7" fill="#f2f2f3"/><rect x="896" y="1099" width="7" height="7" fill="#e8e8ea"/><rect x="903" y="1099" width="7" height="7" fill="#cdced0"/><rect x="910" y="1099" width="7" height="7" fill="#cdced0"/><rect x="917" y="1099" width="7" height="7" fill="#dadbdd"/><rect x="924" y="1099" width="7" height="7" fill="#dadbdd"/><rect x="931" y="1099" width="7" height="7" fill="#cdced0"/><rect x="938" y="1099" width="7" height="7" fill="#dadbdd"/><rect x="945" y="1099" width="7" height="7" fill="#dadbdd"/><rect x="952" y="1099" width="7" height="7" fill="#cdced0"/><rect x="959" y="1099" width="7" height="7" fill="#cdced0"/><rect x="966" y="1099" width="7" height="7" fill="#e8e8ea"/><rect x="973" y="1099" width="7" height="7" fill="#cdced0"/><rect x="980" y="1099" width="7" height="7" fill="#cdced0"/><rect x="987" y="1099" width="7" height="7" fill="#dadbdd"/><rect x="896" y="1106" width="7" height="7" fill="#e8e8ea"/><rect x="903" y="1106" width="7" height="7" fill="#dadbdd"/><rect x="910" y="1106" width="7" height="7" fill="#dadbdd"/><rect x="917" y="1106" width="7" height="7" fill="#e8e8ea"/><rect x="924" y="1106" width="7" height="7" fill="#dadbdd"/><rect x="931" y="1106" width="7" height="7" fill="#dadbdd"/><rect x="938" y="1106" width="7" height="7" fill="#cdced0"/><rect x="945" y="1106" width="7" height="7" fill="#e8e8ea"/><rect x="952" y="1106" width="7" height="7" fill="#e8e8ea"/><rect x="959" y="1106" width="7" height="7" fill="#dadbdd"/><rect x="966" y="1106" width="7" height="7" fill="#dadbdd"/><rect x="973" y="1106" width="7" height="7" fill="#cdced0"/><rect x="980" y="1106" width="7" height="7" fill="#dadbdd"/><rect x="987" y="1106" width="7" height="7" fill="#e8e8ea"/><rect x="896" y="1134" width="7" height="7" fill="#f2f2f3"/><rect x="903" y="1134" width="7" height="7" fill="#e8e8ea"/><rect x="910" y="1134" width="7" height="7" fill="#e8e8ea"/><rect x="917" y="1134" width="7" height="7" fill="#e8e8ea"/><rect x="924" y="1134" width="7" height="7" fill="#f2f2f3"/><rect x="931" y="1134" width="7" height="7" fill="#f2f2f3"/><rect x="938" y="1134" width="7" height="7" fill="#f2f2f3"/><rect x="945" y="1134" width="7" height="7" fill="#f2f2f3"/><rect x="896" y="1141" width="7" height="7" fill="#c0c1c4"/><rect x="903" y="1141" width="7" height="7" fill="#c0c1c4"/><rect x="910" y="1141" width="7" height="7" fill="#dadbdd"/><rect x="917" y="1141" width="7" height="7" fill="#dadbdd"/><rect x="924" y="1141" width="7" height="7" fill="#c0c1c4"/><rect x="931" y="1141" width="7" height="7" fill="#cdced0"/><rect x="938" y="1141" width="7" height="7" fill="#cdced0"/><rect x="945" y="1141" width="7" height="7" fill="#c0c1c4"/><rect x="896" y="1169" width="7" height="7" fill="#e8e8ea"/><rect x="903" y="1169" width="7" height="7" fill="#f2f2f3"/><rect x="910" y="1169" width="7" height="7" fill="#f2f2f3"/><rect x="917" y="1169" width="7" height="7" fill="#e8e8ea"/><rect x="924" y="1169" width="7" height="7" fill="#f2f2f3"/><rect x="931" y="1169" width="7" height="7" fill="#f2f2f3"/><rect x="938" y="1169" width="7" height="7" fill="#e8e8ea"/><rect x="945" y="1169" width="7" height="7" fill="#f2f2f3"/><rect x="952" y="1169" width="7" height="7" fill="#f2f2f3"/><rect x="959" y="1169" width="7" height="7" fill="#e8e8ea"/><rect x="966" y="1169" width="7" height="7" fill="#f2f2f3"/><rect x="973" y="1169" width="7" height="7" fill="#f2f2f3"/><rect x="896" y="1176" width="7" height="7" fill="#dadbdd"/><rect x="903" y="1176" width="7" height="7" fill="#c0c1c4"/><rect x="910" y="1176" width="7" height="7" fill="#dadbdd"/><rect x="917" y="1176" width="7" height="7" fill="#dadbdd"/><rect x="924" y="1176" width="7" height="7" fill="#c0c1c4"/><rect x="931" y="1176" width="7" height="7" fill="#c0c1c4"/><rect x="938" y="1176" width="7" height="7" fill="#c0c1c4"/><rect x="945" y="1176" width="7" height="7" fill="#dadbdd"/><rect x="952" y="1176" width="7" height="7" fill="#c0c1c4"/><rect x="959" y="1176" width="7" height="7" fill="#cdced0"/><rect x="966" y="1176" width="7" height="7" fill="#cdced0"/><rect x="973" y="1176" width="7" height="7" fill="#c0c1c4"/><rect x="896" y="1204" width="7" height="7" fill="#f2f2f3"/><rect x="903" y="1204" width="7" height="7" fill="#e8e8ea"/><rect x="910" y="1204" width="7" height="7" fill="#f2f2f3"/><rect x="917" y="1204" width="7" height="7" fill="#f2f2f3"/><rect x="924" y="1204" width="7" height="7" fill="#f2f2f3"/><rect x="931" y="1204" width="7" height="7" fill="#f2f2f3"/><rect x="938" y="1204" width="7" height="7" fill="#f2f2f3"/><rect x="896" y="1211" width="7" height="7" fill="#cdced0"/><rect x="903" y="1211" width="7" height="7" fill="#dadbdd"/><rect x="910" y="1211" width="7" height="7" fill="#c0c1c4"/><rect x="917" y="1211" width="7" height="7" fill="#c0c1c4"/><rect x="924" y="1211" width="7" height="7" fill="#cdced0"/><rect x="931" y="1211" width="7" height="7" fill="#cdced0"/><rect x="938" y="1211" width="7" height="7" fill="#cdced0"/><rect x="896" y="1239" width="7" height="7" fill="#f2f2f3"/><rect x="903" y="1239" width="7" height="7" fill="#e8e8ea"/><rect x="910" y="1239" width="7" height="7" fill="#e8e8ea"/><rect x="917" y="1239" width="7" height="7" fill="#f2f2f3"/><rect x="924" y="1239" width="7" height="7" fill="#f2f2f3"/><rect x="931" y="1239" width="7" height="7" fill="#f2f2f3"/><rect x="938" y="1239" width="7" height="7" fill="#f2f2f3"/><rect x="896" y="1246" width="7" height="7" fill="#dadbdd"/><rect x="903" y="1246" width="7" height="7" fill="#cdced0"/><rect x="910" y="1246" width="7" height="7" fill="#c0c1c4"/><rect x="917" y="1246" width="7" height="7" fill="#c0c1c4"/><rect x="924" y="1246" width="7" height="7" fill="#c0c1c4"/><rect x="931" y="1246" width="7" height="7" fill="#c0c1c4"/><rect x="938" y="1246" width="7" height="7" fill="#dadbdd"/><rect x="896" y="1274" width="7" height="7" fill="#e8e8ea"/><rect x="903" y="1274" width="7" height="7" fill="#f2f2f3"/><rect x="910" y="1274" width="7" height="7" fill="#f2f2f3"/><rect x="917" y="1274" width="7" height="7" fill="#f2f2f3"/><rect x="924" y="1274" width="7" height="7" fill="#f2f2f3"/><rect x="931" y="1274" width="7" height="7" fill="#e8e8ea"/><rect x="938" y="1274" width="7" height="7" fill="#e8e8ea"/><rect x="945" y="1274" width="7" height="7" fill="#e8e8ea"/><rect x="952" y="1274" width="7" height="7" fill="#f2f2f3"/><rect x="959" y="1274" width="7" height="7" fill="#f2f2f3"/><rect x="966" y="1274" width="7" height="7" fill="#f2f2f3"/><rect x="973" y="1274" width="7" height="7" fill="#f2f2f3"/><rect x="980" y="1274" width="7" height="7" fill="#e8e8ea"/><rect x="987" y="1274" width="7" height="7" fill="#e8e8ea"/><rect x="994" y="1274" width="7" height="7" fill="#f2f2f3"/><rect x="1001" y="1274" width="7" height="7" fill="#f2f2f3"/><rect x="1008" y="1274" width="7" height="7" fill="#f2f2f3"/><rect x="1015" y="1274" width="7" height="7" fill="#f2f2f3"/><rect x="1022" y="1274" width="7" height="7" fill="#e8e8ea"/><rect x="1029" y="1274" width="7" height="7" fill="#f2f2f3"/><rect x="1036" y="1274" width="7" height="7" fill="#e8e8ea"/><rect x="1043" y="1274" width="7" height="7" fill="#e8e8ea"/><rect x="896" y="1281" width="7" height="7" fill="#c0c1c4"/><rect x="903" y="1281" width="7" height="7" fill="#c0c1c4"/><rect x="910" y="1281" width="7" height="7" fill="#c0c1c4"/><rect x="917" y="1281" width="7" height="7" fill="#c0c1c4"/><rect x="924" y="1281" width="7" height="7" fill="#c0c1c4"/><rect x="931" y="1281" width="7" height="7" fill="#dadbdd"/><rect x="938" y="1281" width="7" height="7" fill="#c0c1c4"/><rect x="945" y="1281" width="7" height="7" fill="#dadbdd"/><rect x="952" y="1281" width="7" height="7" fill="#dadbdd"/><rect x="959" y="1281" width="7" height="7" fill="#cdced0"/><rect x="966" y="1281" width="7" height="7" fill="#cdced0"/><rect x="973" y="1281" width="7" height="7" fill="#c0c1c4"/><rect x="980" y="1281" width="7" height="7" fill="#cdced0"/><rect x="987" y="1281" width="7" height="7" fill="#dadbdd"/><rect x="994" y="1281" width="7" height="7" fill="#dadbdd"/><rect x="1001" y="1281" width="7" height="7" fill="#c0c1c4"/><rect x="1008" y="1281" width="7" height="7" fill="#c0c1c4"/><rect x="1015" y="1281" width="7" height="7" fill="#dadbdd"/><rect x="1022" y="1281" width="7" height="7" fill="#cdced0"/><rect x="1029" y="1281" width="7" height="7" fill="#dadbdd"/><rect x="1036" y="1281" width="7" height="7" fill="#c0c1c4"/><rect x="1043" y="1281" width="7" height="7" fill="#cdced0"/><rect x="896" y="1288" width="7" height="7" fill="#e8e8ea"/><rect x="903" y="1288" width="7" height="7" fill="#f2f2f3"/><rect x="910" y="1288" width="7" height="7" fill="#f2f2f3"/><rect x="917" y="1288" width="7" height="7" fill="#f2f2f3"/><rect x="924" y="1288" width="7" height="7" fill="#e8e8ea"/><rect x="931" y="1288" width="7" height="7" fill="#f2f2f3"/><rect x="938" y="1288" width="7" height="7" fill="#e8e8ea"/><rect x="945" y="1288" width="7" height="7" fill="#f2f2f3"/><rect x="952" y="1288" width="7" height="7" fill="#f2f2f3"/><rect x="959" y="1288" width="7" height="7" fill="#e8e8ea"/><rect x="966" y="1288" width="7" height="7" fill="#e8e8ea"/><rect x="973" y="1288" width="7" height="7" fill="#f2f2f3"/><rect x="980" y="1288" width="7" height="7" fill="#e8e8ea"/><rect x="987" y="1288" width="7" height="7" fill="#f2f2f3"/><rect x="994" y="1288" width="7" height="7" fill="#e8e8ea"/><rect x="1001" y="1288" width="7" height="7" fill="#f2f2f3"/><rect x="1008" y="1288" width="7" height="7" fill="#e8e8ea"/><rect x="1015" y="1288" width="7" height="7" fill="#f2f2f3"/><rect x="1022" y="1288" width="7" height="7" fill="#f2f2f3"/><rect x="1029" y="1288" width="7" height="7" fill="#f2f2f3"/><rect x="1036" y="1288" width="7" height="7" fill="#e8e8ea"/><rect x="1043" y="1288" width="7" height="7" fill="#e8e8ea"/></svg>
<div class="a" style="left:87px;top:1291px;width:748px;height:14px;background:#fff;z-index:3;border-top:1px solid #d3d6df"></div>
<div class="a" style="left:880px;top:1291px;width:748px;height:14px;background:#fff;z-index:3;border-top:1px solid #d3d6df"></div>
<svg style="left:0;top:0" width="1664" height="920" viewBox="0 0 1664 920"><path d="M922 595.5H1614.5" stroke="#ebebed" stroke-width="1"/><path d="M922 636.5H1614.5" stroke="#ebebed" stroke-width="1"/><path d="M922 677.5H1614.5" stroke="#ebebed" stroke-width="1"/><path d="M922 718.5H1614.5" stroke="#ebebed" stroke-width="1"/><path d="M922 759.5H1614.5" stroke="#ebebed" stroke-width="1"/><path d="M922 800.5H1614.5" stroke="#ebebed" stroke-width="1"/><path d="M922 841.5H1614.5" stroke="#ebebed" stroke-width="1"/><rect x="942.5" y="840" width="45.6" height="1" fill="#a8cdf0"/><rect x="1029.0" y="840" width="45.6" height="1" fill="#93a7d2"/><rect x="1115.6" y="840" width="45.6" height="1" fill="#b3dde9"/><rect x="1202.2" y="840" width="45.6" height="1" fill="#93bcae"/><rect x="1288.7" y="840" width="45.6" height="1" fill="#f2b7a6"/><rect x="1375.7" y="635.9" width="44.8" height="205.0" fill="#c55692"/><rect x="1461.9" y="840" width="45.6" height="1" fill="#d6b9e6"/><rect x="1548.4" y="840" width="45.6" height="1" fill="#8a97b8"/></svg>
<div class="a" style="left:0;top:58px;width:49px;height:50px;background:#ebf5ff"></div>
<div class="a" style="left:0;top:58px;width:1.4px;height:50px;background:#0a5fd1"></div>
<svg style="left:0;top:0" width="52" height="800" viewBox="0 0 52 800"><g fill="none" stroke="#1b6cdb" stroke-width="1.02" stroke-linecap="round" stroke-linejoin="round"><rect x="15.7" y="73.60000000000001" width="6.6" height="6.6" rx="1.5"/><rect x="15.7" y="84.60000000000001" width="6.6" height="6.6" rx="1.5"/><rect x="26.8" y="73.60000000000001" width="6.6" height="6.6" rx="1.5"/><rect x="26.8" y="84.60000000000001" width="6.6" height="6.6" rx="1.5"/><path d="M31.16 126.49A9.1 9.1 0 1 0 33.59 133.02"/><path d="M27.20 128.85A4.7 4.7 0 1 0 29.18 133.11"/><path d="M24.5 132.7L31.2 126.1" stroke-width="1.3"/><path d="M24.8 174c2.4 1.300 4.900 2 7.900 2.100v9c0 3.800-3.600 6.900-7.900 8.700-4.300-1.800-7.900-4.900-7.900-8.700v-9c3-.1 5.500-.8 7.900-2.100z"/><path d="M24.8 182.600v6"/><path d="M24.8 179.600v.2" stroke-width="1.4"/><path d="M15.700 236.200A9.250 9.250 0 1 1 33.900 236.200"/><path d="M24.800 225.200v2M15.900 233.500h2.500M33.700 233.500h-2.500M18.700 227.700l1.400 1.500M30.900 227.700l-1.400 1.500" stroke-width="1"/><path d="M24.800 229.800l1.600 7.300a1.650 1.650 0 0 1-3.200 0z" stroke-width="1"/><circle cx="24.800" cy="284.600" r="9.300"/><path d="M19.900 289.400c1-3.500 5-7.400 9.800-9.100-1.200 4-5.200 7.900-9.800 9.100z"/><path d="M24.800 324.300l9.200 5.200v10l-9.200 5.100-9.300-5.100v-10z"/><path d="M18.300 330.800v8M21.600 332.200v8.200M24.200 333.800v7.600" stroke-width="1"/><rect x="15.900" y="382.900" width="4.200" height="10.600"/><rect x="22.700" y="388.700" width="3.900" height="4.800"/><rect x="29.600" y="385.800" width="3.900" height="7.700"/><circle cx="18" cy="378" r="2.500"/><circle cx="24.800" cy="383.200" r="2.500"/><circle cx="31.600" cy="379.200" r="2.500"/><path d="M20 379.600l2.800 2.100M26.900 381.900l2.600-1.500"/><rect x="17.400" y="426.900" width="15" height="17.400" rx="1.800"/><path d="M18.600 427.700h12.600" stroke-width="1"/><path d="M20 431.100l2.800 2.800M22.800 431.100l-2.800 2.800M25.300 430.700h4.700M25.300 433.300h4.700M25.300 437.800h4.700M25.300 440.400h4.700" stroke-width="1"/><circle cx="21.400" cy="439.100" r="1.400" stroke-width="1"/><rect x="17.400" y="478.500" width="15" height="5.400" rx="1.800"/><rect x="17.400" y="487.700" width="15" height="5.400" rx="1.800"/><path d="M19.700 481.200h1M19.700 490.400h1" stroke-width="0.9"/><path d="M28.200 527.800h-8.200a1.500 1.500 0 0 0-1.500 1.500v14.600a1.500 1.500 0 0 0 1.500 1.500h9.300a1.500 1.500 0 0 0 1.500-1.500V530.500zM28.200 527.800v2.700h2.600"/><path d="M21.200 530.600h3.400M21.200 542.700h7.600" stroke-width="1"/><path d="M28.18 535.69A3.5 3.5 0 1 1 26.00 533.31" stroke-width="1"/><path d="M20 579.400h-1.700a1 1 0 0 0-1 1v12.800a1 1 0 0 0 1 1H20"/><path d="M19.700 586.600h12M26.400 581.800l5.400 4.800-5.400 4.900"/><path d="M19.600 628.100l1.800 2.300v2.600h-2.700l-2.300-1.700c-.9 2.600.7 5.200 3.500 5.600h2.400l7.300 7.400a2.100 2.100 0 0 0 3-3l-7.300-7.300c.3-3.400-2.200-6-5.700-5.900z" stroke-width="1"/><path d="M26.400 632.400l2.600-3.400 3.300-1.700 1.400.8v2.600l-1.300 2.200-2.300.6-2.400 2.400" stroke-width="1"/><path d="M20.100 637.400l-4.200 4.200a1.700 1.700 0 0 0 0 2.400l1.700 1.700a1.700 1.700 0 0 0 2.400 0l5-5" stroke-width="1"/><path d="M24.500 678.800L31.400 682.800 24.700 687.300 18.600 682.600zM18.600 682.600L14.700 685.800 22 690.300 24.700 687.300M31.400 682.800L34.800 685.800 27.600 690.300 24.700 687.300M17.400 688V692.300L24.700 696.600 32.300 692.300V688" stroke-width="1"/><path d="M23.36 728.31 L26.24 728.31 L26.41 730.69 L28.41 731.52 L30.21 729.96 L32.24 731.99 L30.68 733.79 L31.51 735.79 L33.89 735.96 L33.89 738.84 L31.51 739.01 L30.68 741.01 L32.24 742.81 L30.21 744.84 L28.41 743.28 L26.41 744.11 L26.24 746.49 L23.36 746.49 L23.19 744.11 L21.19 743.28 L19.39 744.84 L17.36 742.81 L18.92 741.01 L18.09 739.01 L15.71 738.84 L15.71 735.96 L18.09 735.79 L18.92 733.79 L17.36 731.99 L19.39 729.96 L21.19 731.52 L23.19 730.69Z"/><circle cx="24.800" cy="737.400" r="3.500"/></g><circle cx="27.900" cy="339.700" r="1.1" fill="#1b6cdb"/><circle cx="31" cy="338.200" r="1.1" fill="#1b6cdb"/><circle cx="31.400" cy="277.400" r="3.400" fill="#78d854"/><path d="M42.2 100.9v-4.300l-4.300 4.300z" fill="#0a5fd1"/><path d="M42.2 150.8v-4.300l-4.300 4.300z" fill="#0a5fd1"/><path d="M42.2 251.8v-4.300l-4.300 4.300z" fill="#0a5fd1"/><path d="M42.2 301.7v-4.300l-4.300 4.300z" fill="#0a5fd1"/><path d="M42.2 402.8v-4.300l-4.300 4.300z" fill="#0a5fd1"/><path d="M42.2 503.7v-4.300l-4.300 4.300z" fill="#0a5fd1"/><path d="M42.2 553.8v-4.300l-4.300 4.300z" fill="#0a5fd1"/><path d="M42.2 604.9v-4.300l-4.300 4.300z" fill="#0a5fd1"/><path d="M42.2 654.8v-4.300l-4.300 4.300z" fill="#0a5fd1"/><path d="M42.2 704.9v-4.300l-4.300 4.300z" fill="#0a5fd1"/></svg>
<span class="t" style="left:78.60px;top:13px;font-size:31.3px;font-weight:700;color:#0c1a3a;transform:scaleX(0.9089);">tenable</span>
<span class="t" style="left:187.00px;top:20px;font-size:18.5px;color:#414859;transform:scaleX(0.8794);">Vulnerability Management</span>
<span class="t" style="left:409.40px;top:22px;font-size:13.6px;color:#0a6ed1;transform:scaleX(0.9957);-webkit-text-stroke:0.35px #0a6ed1;">Dashboards</span>
<span class="t" style="left:507.50px;top:22px;font-size:13.6px;color:#2b3245;transform:scaleX(1.0025);-webkit-text-stroke:0.25px #2b3245;">Selected Dashboard</span>
<span class="t" style="left:72.10px;top:85px;font-size:24.2px;font-weight:700;color:#0c1a3a;transform:scaleX(0.7831);-webkit-text-stroke:0.25px #0c1a3a;">Cyber Essentials - Section 4 - Malware Protection</span>
<span class="t" style="left:87.40px;top:153px;font-size:14.6px;color:#343947;transform:scaleX(0.7989);-webkit-text-stroke:0.22px #343947;">Vulnerabilities Exploitable by Malware Summary</span>
<span class="t" style="left:880.20px;top:153px;font-size:14.6px;color:#343947;transform:scaleX(0.7706);-webkit-text-stroke:0.22px #343947;">Malware Defenses - CSCv8 (Explore)</span>
<span class="t" style="left:87.40px;top:549px;font-size:14.6px;color:#343947;transform:scaleX(0.7977);-webkit-text-stroke:0.22px #343947;">Hosts with Possibly Out-of-Date Anti-Malware Signatures (Explore)</span>
<span class="t" style="left:880.20px;top:549px;font-size:14.6px;color:#343947;transform:scaleX(0.7873);-webkit-text-stroke:0.22px #343947;">Common AntiVirus Concerns (Explore)</span>
<span class="t" style="left:87.40px;top:945px;font-size:14.6px;color:#343947;transform:scaleX(0.7933);-webkit-text-stroke:0.22px #343947;">Top 100 Vulnerabilities Exploitable by Malware (Explore)</span>
<span class="t" style="left:880.20px;top:945px;font-size:14.6px;color:#343947;transform:scaleX(0.7871);-webkit-text-stroke:0.22px #343947;">Top 100 Malware Vulnerable Assets (Explore)</span>
<span class="t" style="left:1053.70px;top:90px;font-size:12.6px;color:#2b3245;transform:scaleX(0.9143);-webkit-text-stroke:0.25px #2b3245;">All</span>
<span class="t" style="left:1116.20px;top:90px;font-size:12.6px;color:#2b3245;transform:scaleX(0.9598);-webkit-text-stroke:0.25px #2b3245;">Jump to Dashboard</span>
<span class="t" style="left:1289.60px;top:90px;font-size:12.6px;color:#2b3245;transform:scaleX(0.9334);-webkit-text-stroke:0.25px #2b3245;">Dashboards</span>
<span class="t" style="left:1402.50px;top:90px;font-size:12.6px;color:#2b3245;transform:scaleX(0.9283);-webkit-text-stroke:0.25px #2b3245;">Share</span>
<span class="t" style="left:1483.30px;top:90px;font-size:12.6px;color:#2b3245;transform:scaleX(0.9751);-webkit-text-stroke:0.25px #2b3245;">Export</span>
<span class="t" style="left:1586.20px;top:90px;font-size:12.6px;color:#2b3245;transform:scaleX(0.9058);-webkit-text-stroke:0.25px #2b3245;">More</span>
<span class="t" style="left:1319.70px;top:21px;font-size:14.8px;color:#2b3245;transform:scaleX(0.9391);-webkit-text-stroke:0.4px #2b3245;">Quick Actions</span>
<span class="t" style="left:1451.32px;top:22px;font-size:12.5px;color:#0c1a3a;">?</span>
<span class="t" style="left:1464.40px;top:14px;font-size:11.5px;font-weight:700;color:#fff;">3</span>
<span class="t" style="left:1627.59px;top:22px;font-size:12px;font-weight:700;color:#fff;">JO</span>
<span class="t" style="left:1532.70px;top:13px;font-size:11.5px;font-weight:700;color:#fff;">1</span>
<span class="t" style="left:389.80px;top:205px;font-size:11px;color:#333a4a;">High</span>
<span class="t" style="left:598.10px;top:333px;font-size:11px;color:#333a4a;transform:scaleX(1.0105);">Low</span>
<span class="t" style="left:595.00px;top:356px;font-size:11px;color:#333a4a;">Medium</span>
<span class="t" style="left:481.90px;top:455px;font-size:11px;color:#333a4a;">Critical</span>
<span class="t" style="left:1092.33px;top:217px;font-size:11px;font-weight:700;color:#2c2f38;transform:scaleX(0.8792);">FAILED</span>
<span class="t" style="left:1234.75px;top:217px;font-size:11px;font-weight:700;color:#2c2f38;transform:scaleX(0.8554);">PASSED</span>
<span class="t" style="left:1372.97px;top:217px;font-size:11px;font-weight:700;color:#2c2f38;transform:scaleX(0.9403);">WARNING</span>
<span class="t" style="left:1525.19px;top:217px;font-size:11px;color:#2c2f38;transform:scaleX(0.8557);">ERROR</span>
<span class="t" style="left:954.60px;top:250px;font-size:11px;color:#3a3a3a;">10.5</span>
<span class="t" style="left:1100.35px;top:250px;font-size:11px;color:#3a3a3a;">937</span>
<span class="t" style="left:1244.57px;top:250px;font-size:11px;color:#3a3a3a;">160</span>
<span class="t" style="left:1394.91px;top:250px;font-size:11px;color:#3a3a3a;">7</span>
<span class="t" style="left:1539.13px;top:250px;font-size:11px;color:#3a3a3a;">0</span>
<span class="t" style="left:954.60px;top:282px;font-size:11px;color:#3a3a3a;">10.1</span>
<span class="t" style="left:1100.35px;top:282px;font-size:11px;color:#3a3a3a;">392</span>
<span class="t" style="left:1247.62px;top:282px;font-size:11px;color:#3a3a3a;">73</span>
<span class="t" style="left:1391.85px;top:282px;font-size:11px;color:#3a3a3a;">23</span>
<span class="t" style="left:1539.13px;top:282px;font-size:11px;color:#3a3a3a;">0</span>
<span class="t" style="left:954.60px;top:314px;font-size:11px;color:#3a3a3a;">10.3</span>
<span class="t" style="left:1100.35px;top:314px;font-size:11px;color:#3a3a3a;">227</span>
<span class="t" style="left:1244.57px;top:314px;font-size:11px;color:#3a3a3a;">261</span>
<span class="t" style="left:1394.91px;top:314px;font-size:11px;color:#3a3a3a;">0</span>
<span class="t" style="left:1539.13px;top:314px;font-size:11px;color:#3a3a3a;">2</span>
<span class="t" style="left:954.60px;top:347px;font-size:11px;color:#3a3a3a;">10.7</span>
<span class="t" style="left:1103.41px;top:347px;font-size:11px;color:#3a3a3a;">68</span>
<span class="t" style="left:1250.69px;top:347px;font-size:11px;color:#3a3a3a;">2</span>
<span class="t" style="left:1394.91px;top:347px;font-size:11px;color:#3a3a3a;">3</span>
<span class="t" style="left:1539.13px;top:347px;font-size:11px;color:#3a3a3a;">0</span>
<span class="t" style="left:954.60px;top:379px;font-size:11px;color:#3a3a3a;">10.4</span>
<span class="t" style="left:1103.41px;top:379px;font-size:11px;color:#3a3a3a;">66</span>
<span class="t" style="left:1250.69px;top:379px;font-size:11px;color:#3a3a3a;">1</span>
<span class="t" style="left:1394.91px;top:379px;font-size:11px;color:#3a3a3a;">0</span>
<span class="t" style="left:1539.13px;top:379px;font-size:11px;color:#3a3a3a;">0</span>
<span class="t" style="left:954.60px;top:411px;font-size:11px;color:#3a3a3a;">10.2</span>
<span class="t" style="left:1106.47px;top:411px;font-size:11px;color:#3a3a3a;">6</span>
<span class="t" style="left:1247.62px;top:411px;font-size:11px;color:#3a3a3a;">26</span>
<span class="t" style="left:1394.91px;top:411px;font-size:11px;color:#3a3a3a;">2</span>
<span class="t" style="left:1539.13px;top:411px;font-size:11px;color:#3a3a3a;">0</span>
<span class="t" style="left:954.60px;top:443px;font-size:11px;color:#3a3a3a;">10.6</span>
<span class="t" style="left:1106.47px;top:443px;font-size:11px;color:#3a3a3a;">2</span>
<span class="t" style="left:1250.69px;top:443px;font-size:11px;color:#3a3a3a;">0</span>
<span class="t" style="left:1391.85px;top:443px;font-size:11px;color:#3a3a3a;">18</span>
<span class="t" style="left:1539.13px;top:443px;font-size:11px;color:#3a3a3a;">2</span>
<span class="t" style="left:104.90px;top:596px;font-size:12.3px;font-weight:700;color:#2c303b;transform:scaleX(0.9190);">Asset Name</span>
<span class="t" style="left:291.00px;top:596px;font-size:12.3px;font-weight:700;color:#2c303b;transform:scaleX(0.9217);">IPv4 Address</span>
<span class="t" style="left:477.40px;top:596px;font-size:12.3px;font-weight:700;color:#2c303b;transform:scaleX(0.8897);">Count</span>
<span class="t" style="left:663.60px;top:596px;font-size:12.3px;font-weight:700;color:#2c303b;transform:scaleX(0.9167);">First Value of Plugin Name</span>
<span class="t" style="left:477.30px;top:631px;font-size:13px;color:#333;">1</span>
<span class="t" style="left:663.70px;top:631px;font-size:13px;color:#333;transform:scaleX(0.9722);">Windows Defender Anti…</span>
<span class="t" style="left:477.30px;top:667px;font-size:13px;color:#333;">1</span>
<span class="t" style="left:663.70px;top:667px;font-size:13px;color:#333;transform:scaleX(0.9722);">Windows Defender Anti…</span>
<span class="t" style="left:477.30px;top:703px;font-size:13px;color:#333;">1</span>
<span class="t" style="left:663.70px;top:703px;font-size:13px;color:#333;transform:scaleX(0.9722);">Windows Defender Anti…</span>
<span class="t" style="left:477.30px;top:739px;font-size:13px;color:#333;">1</span>
<span class="t" style="left:663.70px;top:739px;font-size:13px;color:#333;transform:scaleX(0.9722);">Windows Defender Anti…</span>
<span class="t" style="left:477.30px;top:775px;font-size:13px;color:#333;">1</span>
<span class="t" style="left:663.70px;top:775px;font-size:13px;color:#333;transform:scaleX(0.9722);">Windows Defender Anti…</span>
<span class="t" style="left:477.30px;top:811px;font-size:13px;color:#333;">1</span>
<span class="t" style="left:663.70px;top:811px;font-size:13px;color:#333;transform:scaleX(0.9722);">Windows Defender Anti…</span>
<span class="t" style="left:104.70px;top:992px;font-size:12.3px;font-weight:700;color:#2c303b;transform:scaleX(0.9025);">Plugin ID</span>
<span class="t" style="left:291.00px;top:992px;font-size:12.3px;font-weight:700;color:#2c303b;transform:scaleX(0.9197);">Plugin Name</span>
<span class="t" style="left:477.40px;top:992px;font-size:12.3px;font-weight:700;color:#2c303b;transform:scaleX(0.9160);">First Value of Severity</span>
<span class="t" style="left:663.60px;top:992px;font-size:12.3px;font-weight:700;color:#2c303b;transform:scaleX(0.8869);">Count</span>
<span class="t" style="left:104.00px;top:1027px;font-size:13px;color:#333;">166555</span>
<span class="t" style="left:291.00px;top:1027px;font-size:13px;color:#333;transform:scaleX(0.9674);">WinVerifyTrust Signature…</span>
<span class="t" style="left:496.90px;top:1027px;font-size:13px;color:#ee8a3f;transform:scaleX(0.9550);">Medium</span>
<span class="t" style="left:663.00px;top:1027px;font-size:13px;color:#333;transform:scaleX(0.9700);">89</span>
<span class="t" style="left:104.00px;top:1063px;font-size:13px;color:#333;">132101</span>
<span class="t" style="left:291.00px;top:1063px;font-size:13px;color:#333;transform:scaleX(0.9643);">Windows Speculative Ex…</span>
<span class="t" style="left:496.90px;top:1063px;font-size:13px;color:#ee8a3f;transform:scaleX(0.9550);">Medium</span>
<span class="t" style="left:663.00px;top:1063px;font-size:13px;color:#333;transform:scaleX(0.9700);">48</span>
<span class="t" style="left:104.00px;top:1099px;font-size:13px;color:#333;">161699</span>
<span class="t" style="left:291.00px;top:1099px;font-size:13px;color:#333;transform:scaleX(0.9643);">Cisco AnyConnect Secur…</span>
<span class="t" style="left:496.90px;top:1099px;font-size:13px;color:#dc444c;transform:scaleX(0.9550);">High</span>
<span class="t" style="left:663.00px;top:1099px;font-size:13px;color:#333;transform:scaleX(0.9700);">17</span>
<span class="t" style="left:104.00px;top:1135px;font-size:13px;color:#333;">134164</span>
<span class="t" style="left:291.00px;top:1135px;font-size:13px;color:#333;transform:scaleX(0.9643);">Cisco AnyConnect Secur…</span>
<span class="t" style="left:496.90px;top:1135px;font-size:13px;color:#ee8a3f;transform:scaleX(0.9550);">Medium</span>
<span class="t" style="left:663.00px;top:1135px;font-size:13px;color:#333;transform:scaleX(0.9700);">17</span>
<span class="t" style="left:104.00px;top:1171px;font-size:13px;color:#333;">136564</span>
<span class="t" style="left:291.00px;top:1171px;font-size:13px;color:#333;transform:scaleX(0.9624);">Security Updates for Mic…</span>
<span class="t" style="left:496.90px;top:1171px;font-size:13px;color:#dc444c;transform:scaleX(0.9550);">High</span>
<span class="t" style="left:663.00px;top:1171px;font-size:13px;color:#333;transform:scaleX(0.9700);">16</span>
<span class="t" style="left:104.00px;top:1207px;font-size:13px;color:#333;">159490</span>
<span class="t" style="left:291.00px;top:1207px;font-size:13px;color:#333;transform:scaleX(0.9604);">OpenSSH &lt; 7.8</span>
<span class="t" style="left:496.90px;top:1207px;font-size:13px;color:#ee8a3f;transform:scaleX(0.9550);">Medium</span>
<span class="t" style="left:663.00px;top:1207px;font-size:13px;color:#333;transform:scaleX(0.9700);">14</span>
<span class="t" style="left:104.00px;top:1243px;font-size:13px;color:#333;">214122</span>
<span class="t" style="left:291.00px;top:1243px;font-size:13px;color:#333;transform:scaleX(0.9647);">KB5049983: Windows S…</span>
<span class="t" style="left:496.90px;top:1243px;font-size:13px;color:#dc444c;transform:scaleX(0.9550);">High</span>
<span class="t" style="left:663.00px;top:1243px;font-size:13px;color:#333;transform:scaleX(0.9700);">12</span>
<span class="t" style="left:104.00px;top:1279px;font-size:13px;color:#333;">212223</span>
<span class="t" style="left:291.00px;top:1279px;font-size:13px;color:#333;transform:scaleX(0.9647);">KB5048654: Windows S…</span>
<span class="t" style="left:496.90px;top:1279px;font-size:13px;color:#dc444c;transform:scaleX(0.9550);">High</span>
<span class="t" style="left:663.00px;top:1279px;font-size:13px;color:#333;transform:scaleX(0.9700);">12</span>
<span class="t" style="left:897.60px;top:992px;font-size:12.3px;font-weight:700;color:#2c303b;transform:scaleX(0.9275);">Asset Name</span>
<span class="t" style="left:1145.90px;top:992px;font-size:12.3px;font-weight:700;color:#2c303b;transform:scaleX(0.9043);">All Values of Severity</span>
<span class="t" style="left:1394.00px;top:992px;font-size:12.3px;font-weight:700;color:#2c303b;transform:scaleX(0.9066);">Count</span>
<span class="t" style="left:1393.90px;top:1027px;font-size:13px;color:#333;transform:scaleX(0.9750);">186</span>
<span class="t" style="left:1393.90px;top:1063px;font-size:13px;color:#333;transform:scaleX(0.9750);">185</span>
<span class="t" style="left:1393.90px;top:1099px;font-size:13px;color:#333;transform:scaleX(0.9750);">180</span>
<span class="t" style="left:1393.90px;top:1135px;font-size:13px;color:#333;transform:scaleX(0.9750);">178</span>
<span class="t" style="left:1393.90px;top:1171px;font-size:13px;color:#333;transform:scaleX(0.9750);">173</span>
<span class="t" style="left:1393.90px;top:1207px;font-size:13px;color:#333;transform:scaleX(0.9750);">163</span>
<span class="t" style="left:1393.90px;top:1243px;font-size:13px;color:#333;transform:scaleX(0.9750);">141</span>
<span class="t" style="left:1393.90px;top:1279px;font-size:13px;color:#333;transform:scaleX(0.9750);">132</span>
<span class="t" style="left:893.20px;top:589px;font-size:11px;color:#3a3f4a;">1.2</span>
<span class="t" style="left:902.38px;top:630px;font-size:11px;color:#3a3f4a;">1</span>
<span class="t" style="left:893.20px;top:671px;font-size:11px;color:#3a3f4a;">0.8</span>
<span class="t" style="left:893.20px;top:712px;font-size:11px;color:#3a3f4a;">0.6</span>
<span class="t" style="left:893.20px;top:753px;font-size:11px;color:#3a3f4a;">0.4</span>
<span class="t" style="left:893.20px;top:794px;font-size:11px;color:#3a3f4a;">0.2</span>
<span class="t" style="left:902.38px;top:835px;font-size:11px;color:#3a3f4a;">0</span>
<span class="t" style="left:952.03px;top:850px;font-size:11px;color:#3a3f4a;transform:scaleX(0.9703);">Avast</span>
<span class="t" style="left:1023.59px;top:850px;font-size:11px;color:#3a3f4a;transform:scaleX(0.9726);">BitDefender</span>
<span class="t" style="left:1112.21px;top:850px;font-size:11px;color:#3a3f4a;transform:scaleX(0.9740);">ZoneAlarm</span>
<span class="t" style="left:1201.52px;top:850px;font-size:11px;color:#3a3f4a;transform:scaleX(0.9711);">ForeFront</span>
<span class="t" style="left:1286.28px;top:850px;font-size:11px;color:#3a3f4a;transform:scaleX(0.9833);">Kaspersky</span>
<span class="t" style="left:1379.59px;top:850px;font-size:11px;color:#3a3f4a;transform:scaleX(0.9916);">Sophos</span>
<span class="t" style="left:1466.41px;top:850px;font-size:11px;color:#3a3f4a;transform:scaleX(0.9786);">McAfee</span>
<span class="t" style="left:1547.22px;top:850px;font-size:11px;color:#3a3f4a;transform:scaleX(0.9812);">Symantec</span>
</div>
</body>
</html>
